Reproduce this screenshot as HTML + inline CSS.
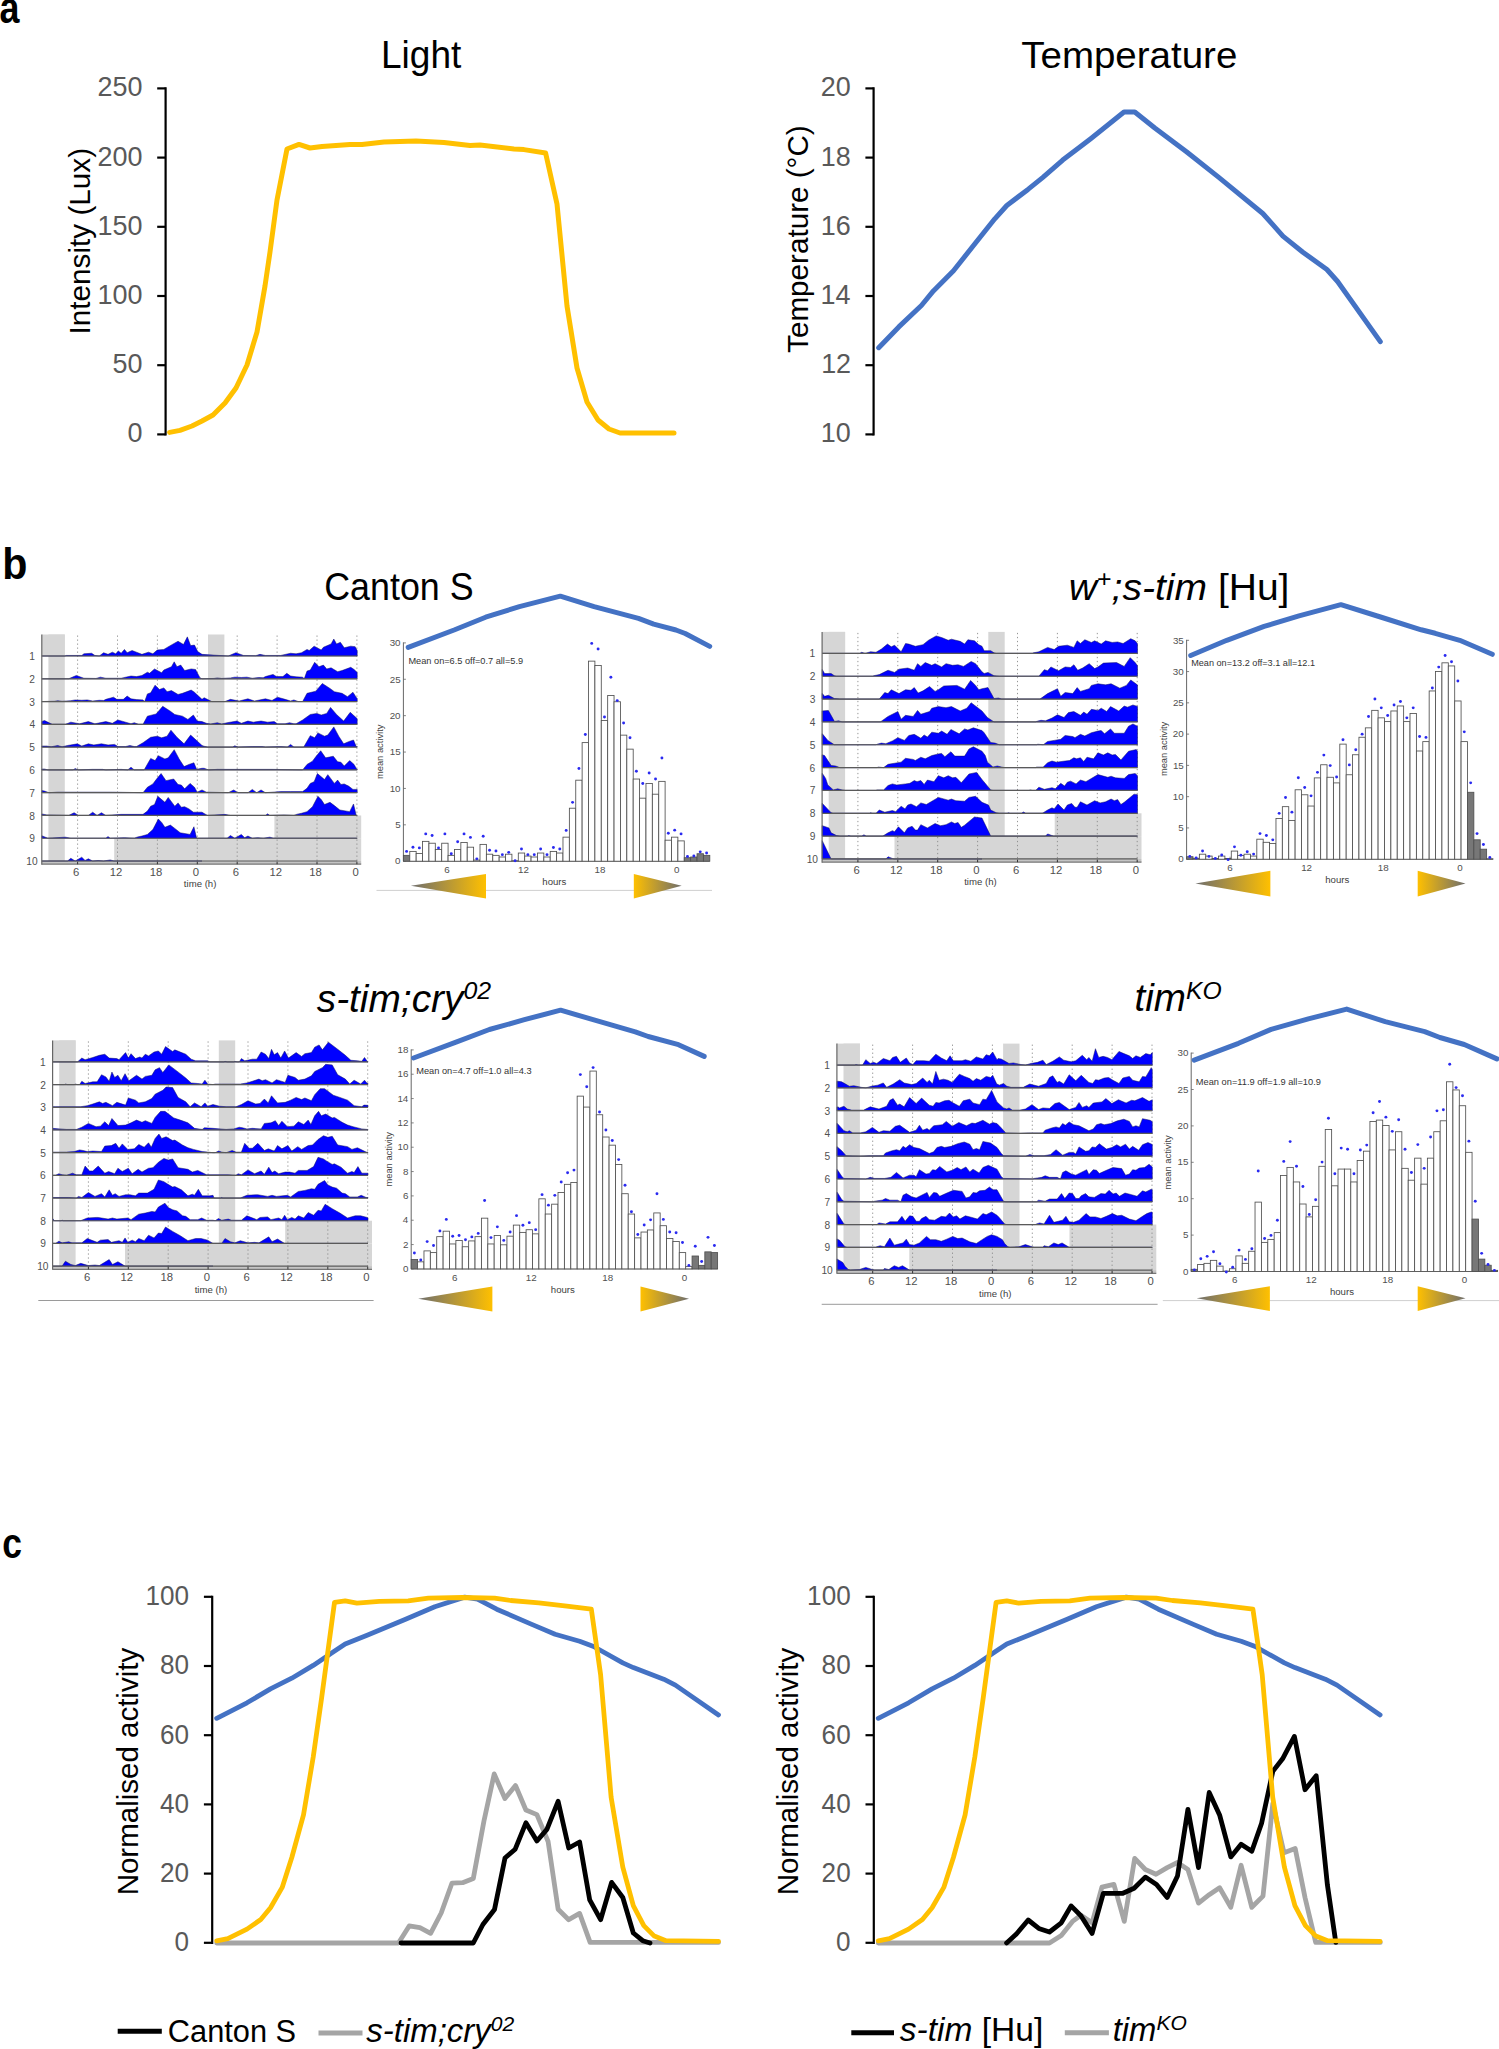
<!DOCTYPE html>
<html><head><meta charset="utf-8"><style>html,body{margin:0;padding:0;background:#fff;}svg{display:block;}</style></head>
<body><svg width="1499" height="2049" viewBox="0 0 1499 2049">
<rect width="100%" height="100%" fill="#fff"/>
<text transform="translate(-0.48,22.76) scale(0.8156,1)" font-size="44.000" fill="#000" font-family="&quot;Liberation Sans&quot;, sans-serif" font-weight="bold">a</text>
<text transform="translate(380.93,68.06) scale(0.9681,1)" font-size="38.289" fill="#000" font-family="&quot;Liberation Sans&quot;, sans-serif">Light</text>
<text transform="translate(1021.23,67.76) scale(1.0314,1)" font-size="37.333" fill="#000" font-family="&quot;Liberation Sans&quot;, sans-serif">Temperature</text>
<line x1="165.6" y1="87.3" x2="165.6" y2="435.5" stroke="#000" stroke-width="2.2" />
<line x1="157.2" y1="88.4" x2="165.6" y2="88.4" stroke="#000" stroke-width="2.2" />
<text transform="translate(97.57,96.45) scale(0.9800,1.0000)" font-size="27.500" fill="#595959" font-family="&quot;Liberation Sans&quot;, sans-serif">250</text>
<line x1="157.2" y1="157.6" x2="165.6" y2="157.6" stroke="#000" stroke-width="2.2" />
<text transform="translate(97.57,165.65) scale(0.9800,1.0000)" font-size="27.500" fill="#595959" font-family="&quot;Liberation Sans&quot;, sans-serif">200</text>
<line x1="157.2" y1="226.8" x2="165.6" y2="226.8" stroke="#000" stroke-width="2.2" />
<text transform="translate(97.57,234.85) scale(0.9800,1.0000)" font-size="27.500" fill="#595959" font-family="&quot;Liberation Sans&quot;, sans-serif">150</text>
<line x1="157.2" y1="296" x2="165.6" y2="296" stroke="#000" stroke-width="2.2" />
<text transform="translate(97.57,304.05) scale(0.9800,1.0000)" font-size="27.500" fill="#595959" font-family="&quot;Liberation Sans&quot;, sans-serif">100</text>
<line x1="157.2" y1="365.2" x2="165.6" y2="365.2" stroke="#000" stroke-width="2.2" />
<text transform="translate(112.53,373.25) scale(0.9800,1.0000)" font-size="27.500" fill="#595959" font-family="&quot;Liberation Sans&quot;, sans-serif">50</text>
<line x1="157.2" y1="434.4" x2="165.6" y2="434.4" stroke="#000" stroke-width="2.2" />
<text transform="translate(127.49,442.45) scale(0.9800,1.0000)" font-size="27.500" fill="#595959" font-family="&quot;Liberation Sans&quot;, sans-serif">0</text>
<text transform="translate(89.76,334.47) rotate(-90) scale(0.9994,1)" font-size="29.733" fill="#000" font-family="&quot;Liberation Sans&quot;, sans-serif">Intensity (Lux)</text>
<polyline points="169.6,432.4 180,430.4 192,426 202,421 213,415 225,403 236,388 247,365 257,332 265,286 270,252 277,200 287,149 299,144.4 310,148 322,146.4 350,144.4 362,144.4 384,142 416,141 444,142.4 470,145.6 480,145 514,149 524,149.6 545.6,153 557,204 567,306 577,368 587,402 598,420 609,429 620,433 674,433" fill="none" stroke="#FFC000" stroke-width="5" stroke-linejoin="round" stroke-linecap="round" />
<line x1="873.6" y1="87.3" x2="873.6" y2="435.5" stroke="#000" stroke-width="2.2" />
<line x1="865.4" y1="88.4" x2="873.6" y2="88.4" stroke="#000" stroke-width="2.2" />
<text transform="translate(820.73,96.45) scale(0.9800,1.0000)" font-size="27.500" fill="#595959" font-family="&quot;Liberation Sans&quot;, sans-serif">20</text>
<line x1="865.4" y1="157.6" x2="873.6" y2="157.6" stroke="#000" stroke-width="2.2" />
<text transform="translate(820.86,165.65) scale(0.9800,1.0000)" font-size="27.500" fill="#595959" font-family="&quot;Liberation Sans&quot;, sans-serif">18</text>
<line x1="865.4" y1="226.8" x2="873.6" y2="226.8" stroke="#000" stroke-width="2.2" />
<text transform="translate(820.86,234.85) scale(0.9800,1.0000)" font-size="27.500" fill="#595959" font-family="&quot;Liberation Sans&quot;, sans-serif">16</text>
<line x1="865.4" y1="296" x2="873.6" y2="296" stroke="#000" stroke-width="2.2" />
<text transform="translate(820.59,303.78) scale(0.9800,1.0000)" font-size="27.500" fill="#595959" font-family="&quot;Liberation Sans&quot;, sans-serif">14</text>
<line x1="865.4" y1="365.2" x2="873.6" y2="365.2" stroke="#000" stroke-width="2.2" />
<text transform="translate(821.13,373.25) scale(0.9800,1.0000)" font-size="27.500" fill="#595959" font-family="&quot;Liberation Sans&quot;, sans-serif">12</text>
<line x1="865.4" y1="434.4" x2="873.6" y2="434.4" stroke="#000" stroke-width="2.2" />
<text transform="translate(820.73,442.45) scale(0.9800,1.0000)" font-size="27.500" fill="#595959" font-family="&quot;Liberation Sans&quot;, sans-serif">10</text>
<text transform="translate(808.45,352.89) rotate(-90) scale(1.0114,1)" font-size="29.305" fill="#000" font-family="&quot;Liberation Sans&quot;, sans-serif">Temperature (°C)</text>
<polyline points="878.7,347.7 898.8,326.9 921.4,305.5 933.4,290.9 953.5,270.8 973.5,245.5 994.8,218.8 1006.8,205.5 1028,189.4 1042.9,177.4 1062.7,160.1 1080.2,146.8 1090.7,138.7 1124,112 1134.8,112 1154.8,128 1186.8,152 1218.8,177.4 1262.8,213.5 1282.9,236.1 1302.9,252.2 1326.9,269.5 1337.6,281.5 1380.3,341.6" fill="none" stroke="#4472C4" stroke-width="5" stroke-linejoin="round" stroke-linecap="round" />
<text transform="translate(2.32,578.55) scale(0.9230,1)" font-size="44.626" fill="#000" font-family="&quot;Liberation Sans&quot;, sans-serif" font-weight="bold">b</text>
<rect x="48.4" y="634.5" width="16.4" height="226.52" fill="#d6d6d6" />
<rect x="41.8" y="634.5" width="23" height="21.5" fill="#d6d6d6" />
<rect x="208" y="634.5" width="16.4" height="203.74" fill="#d6d6d6" />
<rect x="274.4" y="815.46" width="86.8" height="22.78" fill="#d6d6d6" />
<rect x="114.2" y="838.24" width="247" height="22.78" fill="#d6d6d6" />
<rect x="41.8" y="861.02" width="319.4" height="3.2" fill="#c4c4c4" />
<line x1="77.6" y1="635.5" x2="77.6" y2="864.22" stroke="#8a8a8a" stroke-width="0.9" stroke-dasharray="1.3,2.7"/>
<line x1="117.5" y1="635.5" x2="117.5" y2="864.22" stroke="#8a8a8a" stroke-width="0.9" stroke-dasharray="1.3,2.7"/>
<line x1="157.4" y1="635.5" x2="157.4" y2="864.22" stroke="#8a8a8a" stroke-width="0.9" stroke-dasharray="1.3,2.7"/>
<line x1="197.3" y1="635.5" x2="197.3" y2="864.22" stroke="#8a8a8a" stroke-width="0.9" stroke-dasharray="1.3,2.7"/>
<line x1="237.2" y1="635.5" x2="237.2" y2="864.22" stroke="#8a8a8a" stroke-width="0.9" stroke-dasharray="1.3,2.7"/>
<line x1="277.1" y1="635.5" x2="277.1" y2="864.22" stroke="#8a8a8a" stroke-width="0.9" stroke-dasharray="1.3,2.7"/>
<line x1="317" y1="635.5" x2="317" y2="864.22" stroke="#8a8a8a" stroke-width="0.9" stroke-dasharray="1.3,2.7"/>
<line x1="356.9" y1="635.5" x2="356.9" y2="864.22" stroke="#8a8a8a" stroke-width="0.9" stroke-dasharray="1.3,2.7"/>
<polygon points="41.8,656 41.8,656 64.81,656 66.45,655.45 81.76,655.45 83.95,653.81 91.61,653.26 94.89,655.45 99.27,656 103.65,652.72 108.02,654.36 112.4,652.17 115.68,653.81 118.42,651.08 121.15,653.26 124.43,649.44 127.17,652.72 132.09,650.53 136.47,652.17 141.94,654.36 148.5,652.17 152.88,653.81 157.26,649.98 163.82,649.44 169.29,646.15 178.04,641.23 183.51,644.51 187.34,636.85 190.63,645.61 194.46,645.06 197.74,651.62 202,654.36 228.23,656 235.89,652.72 243.55,655.45 255.59,655.67 259.96,654.36 265.43,655.45 280.75,655.45 282.94,654.91 290.6,653.26 296.07,653.81 301.54,652.72 307.01,649.44 309.2,650.53 314.12,646.15 321.23,649.98 323.42,647.25 331.08,643.96 333.81,639.04 336.55,643.96 340.38,642.32 344.21,647.79 350.77,646.15 355.15,646.7 357.2,650.55 357.2,656" fill="#0000ff" stroke="#101060" stroke-width="0.5" stroke-linejoin="round"/>
<polygon points="41.8,678.78 41.8,678.78 68.63,678.78 76.29,675.5 83.95,678.23 95.99,678.45 100.36,677.14 105.83,678.23 121.15,678.23 123.34,677.69 131,676.04 136.47,676.59 141.94,675.5 147.41,672.22 149.6,673.31 154.52,668.93 161.63,672.76 163.82,670.03 171.48,666.74 174.21,661.82 176.95,666.74 180.78,665.1 184.61,670.57 191.17,668.93 195.55,669.48 199.93,677.69 202,678.78 214.01,678.45 217.29,677.9 221.67,678.45 230.42,677.9 234.8,677.14 241.36,677.47 246.83,677.14 252.3,678.23 258.87,677.47 263.25,677.69 265.43,676.59 273.09,674.4 276.37,676.59 282.94,676.59 286.77,673.31 290.6,676.04 296.07,676.81 302.63,677.14 304.27,678.78 307.01,671.12 310.29,670.03 314.67,662.37 319.04,666.74 323.42,665.1 326.7,668.93 331.08,667.84 337.64,671.67 342.02,670.57 350.77,667.29 354.06,669.48 357.2,672.44 357.2,678.78" fill="#0000ff" stroke="#101060" stroke-width="0.5" stroke-linejoin="round"/>
<polygon points="41.8,701.56 41.8,701.55 54.41,701.23 57.69,700.68 62.07,701.23 70.82,700.68 75.2,699.92 81.76,700.25 87.23,699.92 92.7,701.01 99.27,700.25 103.65,700.47 105.83,699.37 113.49,697.18 116.77,699.37 123.34,699.37 127.17,696.09 131,698.82 136.47,699.59 143.03,699.92 144.67,701.56 147.41,693.9 150.69,692.81 155.07,685.15 159.44,689.52 163.82,687.88 167.1,691.71 171.48,690.62 178.04,694.45 182.42,693.35 191.17,690.07 194.46,692.26 202,699.37 204.16,697.73 211.82,701.56 224.95,701.56 230.42,699.37 239.18,701.01 247.93,698.82 254.49,701.01 265.43,698.82 272,700.47 277.47,697.18 285.13,699.37 290.6,701.01 293.88,699.92 298.26,701.56 302.63,701.56 307.01,693.35 315.76,691.17 322.33,683.51 329.99,688.43 334.36,691.71 342.02,693.35 347.49,696.64 352.96,692.26 356.79,698.28 357.2,698.32 357.2,701.56" fill="#0000ff" stroke="#101060" stroke-width="0.5" stroke-linejoin="round"/>
<polygon points="41.8,724.34 41.8,721.43 44.56,720.51 52.22,724.34 65.35,724.34 70.82,722.15 79.58,723.79 88.33,721.6 94.89,723.79 105.83,721.6 112.4,723.25 117.87,719.96 125.53,722.15 131,723.79 134.28,722.7 138.66,724.34 143.03,724.34 147.41,716.13 156.16,713.95 162.73,706.29 170.39,711.21 174.76,714.49 182.42,716.13 187.89,719.42 193.36,715.04 197.19,721.06 202,721.6 206.35,723.25 210.73,724.01 217.29,722.7 221.67,724.01 227.14,722.7 236.99,721.06 241.36,723.25 247.93,721.06 253.4,722.15 261.06,721.06 267.62,722.15 274.19,721.6 277.47,723.79 285.13,723.79 289.5,722.7 293.88,723.79 296.07,723.79 302.63,719.96 310.29,714.49 316.86,713.4 321.23,715.04 326.7,713.4 330.53,707.38 336.55,714.49 343.66,721.06 350.23,712.3 356.24,717.78 357.2,718.65 357.2,724.34" fill="#0000ff" stroke="#101060" stroke-width="0.5" stroke-linejoin="round"/>
<polygon points="41.8,747.12 41.8,746.03 46.75,746.03 51.13,746.79 57.69,745.48 62.07,746.79 67.54,745.48 77.39,743.84 81.76,746.03 88.33,743.84 93.8,744.93 101.46,743.84 108.02,744.93 114.59,744.38 117.87,746.57 125.53,746.57 129.9,745.48 134.28,746.57 136.47,746.57 143.03,742.74 150.69,737.27 157.26,736.18 161.63,737.82 167.1,736.18 170.93,730.16 176.95,737.27 184.06,743.84 190.63,735.08 196.64,740.56 202,745.48 204.16,746.24 207.45,747.12 232.61,747.12 234.8,745.81 238.08,747.12 252.3,746.57 262.15,746.57 265.43,747.12 280.75,746.57 287.32,747.12 290.6,744.38 293.88,747.12 303.73,747.12 310.29,735.63 314.67,737.82 317.95,732.9 324.51,736.18 327.8,735.08 333.81,726.88 338.74,736.18 343.66,743.84 348.58,741.65 353.51,740.01 356.24,746.57 357.2,746.38 357.2,747.12" fill="#0000ff" stroke="#101060" stroke-width="0.5" stroke-linejoin="round"/>
<polygon points="41.8,769.9 41.8,769.02 44.56,769.02 47.85,769.9 73.01,769.9 75.2,768.59 78.48,769.9 92.7,769.35 102.55,769.35 105.83,769.9 121.15,769.35 127.72,769.9 131,767.16 134.28,769.9 144.13,769.9 150.69,758.41 155.07,760.6 158.35,755.68 164.91,758.96 168.2,757.86 174.21,749.66 179.14,758.96 184.06,766.62 188.98,764.43 193.91,762.79 196.64,769.35 202,768.26 204.16,768.26 208.54,769.9 217.29,769.35 230.42,769.35 272,769.35 302.63,769.9 307.01,764.43 312.48,761.15 315.76,756.77 320.69,750.75 325.61,757.86 333.27,756.22 337.64,761.69 340.93,762.24 344.21,766.07 349.68,760.6 354.06,764.43 356.79,769.35 357.2,769.17 357.2,769.9" fill="#0000ff" stroke="#101060" stroke-width="0.5" stroke-linejoin="round"/>
<polygon points="41.8,792.68 41.8,790.58 44.56,791.04 48.94,792.68 57.69,792.13 70.82,792.13 112.4,792.13 143.03,792.68 147.41,787.21 152.88,783.93 156.16,779.55 161.09,773.53 166.01,780.64 173.67,779 178.04,784.47 181.33,785.02 184.61,788.85 190.08,783.38 194.46,787.21 197.19,792.13 202,789.94 206.35,792.13 228.23,792.68 233.71,789.94 238.08,792.68 247.93,792.68 252.3,789.4 256.68,792.68 261.06,789.94 265.43,792.68 280.75,791.59 290.6,791.59 302.63,791.59 307.01,788.3 310.29,783.38 314.12,781.74 317.4,773.53 324.51,779.55 327.8,774.63 334.36,783.38 337.64,780.1 340.93,784.47 344.21,783.93 348.58,786.12 352.96,789.4 357.2,789.4 357.2,792.68" fill="#0000ff" stroke="#101060" stroke-width="0.5" stroke-linejoin="round"/>
<polygon points="41.8,815.46 41.8,813.92 46.75,814.91 68.63,815.46 74.11,812.72 78.48,815.46 88.33,815.46 92.7,812.18 97.08,815.46 101.46,812.72 105.83,815.46 121.15,814.37 131,814.37 143.03,814.37 147.41,811.08 150.69,806.16 154.52,804.52 157.8,796.31 164.91,802.33 168.2,797.41 174.76,806.16 178.04,802.88 181.33,807.25 184.61,806.71 188.98,808.9 193.36,812.18 202,812.18 207.45,815.46 224.95,814.37 230.42,815.46 265.43,815.46 267.62,813.82 269.81,815.46 284.03,814.91 293.88,815.46 297.16,814.15 301.54,813.27 307.01,811.63 312.48,806.71 317.95,796.31 321.23,799.6 324.51,804.52 329.99,802.33 334.36,805.61 339.83,809.99 349.68,811.63 353.51,803.97 356.24,815.46 357.2,815.46 357.2,815.46" fill="#0000ff" stroke="#101060" stroke-width="0.5" stroke-linejoin="round"/>
<polygon points="41.8,838.24 41.8,835.72 47.85,838.24 65.35,837.15 70.82,838.24 105.83,838.24 108.02,836.6 110.21,838.24 124.43,837.69 134.28,838.24 137.56,836.93 141.94,836.05 147.41,834.41 152.88,829.49 158.35,819.09 161.63,822.38 164.91,827.3 170.39,825.11 174.76,828.39 180.23,832.77 190.08,834.41 193.91,826.75 196.64,838.24 202,838.24 227.14,838.24 230.42,835.5 234.8,838.24 241.36,834.41 244.65,837.69 247.93,836.05 252.3,838.24 257.78,837.69 263.25,838.24 269.81,837.15 273.64,838.24 357.2,838.24 357.2,838.24" fill="#0000ff" stroke="#101060" stroke-width="0.5" stroke-linejoin="round"/>
<polygon points="41.8,861.02 41.8,861.02 67.54,861.02 70.82,858.28 75.2,861.02 81.76,857.19 85.05,860.47 88.33,858.83 92.7,861.02 98.18,860.47 103.65,861.02 110.21,859.93 114.04,861.02 202,861.02 202,861.02" fill="#0000ff" stroke="#101060" stroke-width="0.5" stroke-linejoin="round"/>
<line x1="41.8" y1="656" x2="357.2" y2="656" stroke="#5a5a5a" stroke-width="1.2" />
<line x1="41.8" y1="678.78" x2="357.2" y2="678.78" stroke="#5a5a5a" stroke-width="1.2" />
<line x1="41.8" y1="701.56" x2="357.2" y2="701.56" stroke="#5a5a5a" stroke-width="1.2" />
<line x1="41.8" y1="724.34" x2="357.2" y2="724.34" stroke="#5a5a5a" stroke-width="1.2" />
<line x1="41.8" y1="747.12" x2="357.2" y2="747.12" stroke="#5a5a5a" stroke-width="1.2" />
<line x1="41.8" y1="769.9" x2="357.2" y2="769.9" stroke="#5a5a5a" stroke-width="1.2" />
<line x1="41.8" y1="792.68" x2="357.2" y2="792.68" stroke="#5a5a5a" stroke-width="1.2" />
<line x1="41.8" y1="815.46" x2="357.2" y2="815.46" stroke="#5a5a5a" stroke-width="1.2" />
<line x1="41.8" y1="838.24" x2="357.2" y2="838.24" stroke="#5a5a5a" stroke-width="1.2" />
<line x1="41.8" y1="861.02" x2="357.2" y2="861.02" stroke="#5a5a5a" stroke-width="1.2" />
<line x1="41.8" y1="634.5" x2="41.8" y2="864.72" stroke="#666" stroke-width="1.2" />
<line x1="41.8" y1="864.22" x2="361.2" y2="864.22" stroke="#777" stroke-width="1.2" />
<line x1="77.6" y1="861.72" x2="77.6" y2="864.22" stroke="#333" stroke-width="1" />
<line x1="117.5" y1="861.72" x2="117.5" y2="864.22" stroke="#333" stroke-width="1" />
<line x1="157.4" y1="861.72" x2="157.4" y2="864.22" stroke="#333" stroke-width="1" />
<line x1="197.3" y1="861.72" x2="197.3" y2="864.22" stroke="#333" stroke-width="1" />
<line x1="237.2" y1="861.72" x2="237.2" y2="864.22" stroke="#333" stroke-width="1" />
<line x1="277.1" y1="861.72" x2="277.1" y2="864.22" stroke="#333" stroke-width="1" />
<line x1="317" y1="861.72" x2="317" y2="864.22" stroke="#333" stroke-width="1" />
<line x1="356.9" y1="861.72" x2="356.9" y2="864.22" stroke="#333" stroke-width="1" />
<text transform="translate(29.22,659.94) scale(1.0000,1.0000)" font-size="10.200" fill="#505050" font-family="&quot;Liberation Sans&quot;, sans-serif">1</text>
<text transform="translate(29.37,682.82) scale(1.0000,1.0000)" font-size="10.200" fill="#505050" font-family="&quot;Liberation Sans&quot;, sans-serif">2</text>
<text transform="translate(29.37,705.6) scale(1.0000,1.0000)" font-size="10.200" fill="#505050" font-family="&quot;Liberation Sans&quot;, sans-serif">3</text>
<text transform="translate(29.42,728.28) scale(1.0000,1.0000)" font-size="10.200" fill="#505050" font-family="&quot;Liberation Sans&quot;, sans-serif">4</text>
<text transform="translate(29.37,751.06) scale(1.0000,1.0000)" font-size="10.200" fill="#505050" font-family="&quot;Liberation Sans&quot;, sans-serif">5</text>
<text transform="translate(29.32,773.94) scale(1.0000,1.0000)" font-size="10.200" fill="#505050" font-family="&quot;Liberation Sans&quot;, sans-serif">6</text>
<text transform="translate(29.37,796.62) scale(1.0000,1.0000)" font-size="10.200" fill="#505050" font-family="&quot;Liberation Sans&quot;, sans-serif">7</text>
<text transform="translate(29.34,819.5) scale(1.0000,1.0000)" font-size="10.200" fill="#505050" font-family="&quot;Liberation Sans&quot;, sans-serif">8</text>
<text transform="translate(29.37,842.28) scale(1.0000,1.0000)" font-size="10.200" fill="#505050" font-family="&quot;Liberation Sans&quot;, sans-serif">9</text>
<text transform="translate(26.33,865.06) scale(1.0000,1.0000)" font-size="10.200" fill="#505050" font-family="&quot;Liberation Sans&quot;, sans-serif">10</text>
<text transform="translate(73.11,876.13) scale(1.0000,1.0000)" font-size="11.300" fill="#505050" font-family="&quot;Liberation Sans&quot;, sans-serif">6</text>
<text transform="translate(109.79,876.13) scale(1.0000,1.0000)" font-size="11.300" fill="#505050" font-family="&quot;Liberation Sans&quot;, sans-serif">12</text>
<text transform="translate(149.63,876.13) scale(1.0000,1.0000)" font-size="11.300" fill="#505050" font-family="&quot;Liberation Sans&quot;, sans-serif">18</text>
<text transform="translate(192.84,876.13) scale(1.0000,1.0000)" font-size="11.300" fill="#505050" font-family="&quot;Liberation Sans&quot;, sans-serif">0</text>
<text transform="translate(232.71,876.13) scale(1.0000,1.0000)" font-size="11.300" fill="#505050" font-family="&quot;Liberation Sans&quot;, sans-serif">6</text>
<text transform="translate(269.39,876.13) scale(1.0000,1.0000)" font-size="11.300" fill="#505050" font-family="&quot;Liberation Sans&quot;, sans-serif">12</text>
<text transform="translate(309.23,876.13) scale(1.0000,1.0000)" font-size="11.300" fill="#505050" font-family="&quot;Liberation Sans&quot;, sans-serif">18</text>
<text transform="translate(352.44,876.13) scale(1.0000,1.0000)" font-size="11.300" fill="#505050" font-family="&quot;Liberation Sans&quot;, sans-serif">0</text>
<text transform="translate(183.87,887.48) scale(1.0000,1.0000)" font-size="9.600" fill="#404040" font-family="&quot;Liberation Sans&quot;, sans-serif">time (h)</text>
<rect x="828.7" y="631.9" width="16.4" height="227.06" fill="#d6d6d6" />
<rect x="822.1" y="631.9" width="23" height="21.5" fill="#d6d6d6" />
<rect x="988.3" y="631.9" width="16.4" height="204.22" fill="#d6d6d6" />
<rect x="1054.7" y="813.28" width="86.8" height="22.84" fill="#d6d6d6" />
<rect x="894.5" y="836.12" width="247" height="22.84" fill="#d6d6d6" />
<rect x="822.1" y="858.96" width="319.4" height="3.2" fill="#c4c4c4" />
<line x1="857.9" y1="632.9" x2="857.9" y2="862.16" stroke="#8a8a8a" stroke-width="0.9" stroke-dasharray="1.3,2.7"/>
<line x1="897.8" y1="632.9" x2="897.8" y2="862.16" stroke="#8a8a8a" stroke-width="0.9" stroke-dasharray="1.3,2.7"/>
<line x1="937.7" y1="632.9" x2="937.7" y2="862.16" stroke="#8a8a8a" stroke-width="0.9" stroke-dasharray="1.3,2.7"/>
<line x1="977.6" y1="632.9" x2="977.6" y2="862.16" stroke="#8a8a8a" stroke-width="0.9" stroke-dasharray="1.3,2.7"/>
<line x1="1017.5" y1="632.9" x2="1017.5" y2="862.16" stroke="#8a8a8a" stroke-width="0.9" stroke-dasharray="1.3,2.7"/>
<line x1="1057.4" y1="632.9" x2="1057.4" y2="862.16" stroke="#8a8a8a" stroke-width="0.9" stroke-dasharray="1.3,2.7"/>
<line x1="1097.3" y1="632.9" x2="1097.3" y2="862.16" stroke="#8a8a8a" stroke-width="0.9" stroke-dasharray="1.3,2.7"/>
<line x1="1137.2" y1="632.9" x2="1137.2" y2="862.16" stroke="#8a8a8a" stroke-width="0.9" stroke-dasharray="1.3,2.7"/>
<polygon points="822.1,653.4 822.1,653.4 844.81,653.4 859.58,653.4 861.76,652.31 865.05,653.4 870.52,651.76 875.99,652.31 881.46,649.02 887.47,644.1 891.3,646.84 894.59,645.19 901.15,651.76 905.53,643.55 908.81,644.1 915.37,646.29 923.03,644.65 928.5,640.27 936.16,635.89 941.63,637.54 948.2,640.27 951.48,639.18 960.23,641.36 964.61,644.1 967.89,639.72 974.46,640.82 978.83,644.65 982,646.29 984.16,650.66 990.73,650.66 994.01,652.85 996.2,653.4 1032.3,653.4 1033.4,652.85 1038.87,651.76 1047.62,647.38 1054.19,649.57 1058.56,646.29 1067.32,645.19 1073.88,647.38 1077.16,640.82 1080.44,643.55 1084.82,639.72 1091.39,642.46 1094.67,640.82 1101.23,644.1 1105.61,640.82 1112.17,642.46 1117.64,641.91 1123.11,643.55 1130.77,638.63 1135.15,640.82 1137.5,643.81 1137.5,653.4" fill="#0000ff" stroke="#101060" stroke-width="0.5" stroke-linejoin="round"/>
<polygon points="822.1,676.24 822.1,669.54 822.38,669.68 824.56,673.5 831.13,673.5 834.41,675.69 836.6,676.24 872.7,676.24 873.8,675.69 879.27,674.6 888.02,670.22 894.59,672.41 898.96,669.13 907.72,668.03 914.28,670.22 917.56,663.66 920.84,666.39 925.22,662.56 931.79,665.3 935.07,663.66 941.63,666.94 946.01,663.66 952.57,665.3 958.04,664.75 963.51,666.39 971.17,661.47 975.55,663.66 982,671.86 984.16,673.5 987.99,672.41 994.01,675.69 999.48,676.24 1038.87,676.24 1044.34,669.68 1047.62,670.77 1050.9,666.94 1058.56,670.77 1065.13,666.94 1070.6,667.49 1073.88,664.75 1077.71,670.22 1082.63,668.03 1089.2,663.66 1094.67,668.58 1097.95,666.94 1103.42,663.11 1116.55,662.56 1124.21,666.39 1130.23,657.64 1135.15,662.56 1137.5,665.7 1137.5,676.24" fill="#0000ff" stroke="#101060" stroke-width="0.5" stroke-linejoin="round"/>
<polygon points="822.1,699.08 822.1,693.47 822.38,693.61 824.56,696.34 828.39,695.25 834.41,698.53 839.88,699.08 879.27,699.08 884.74,692.52 888.02,693.61 891.3,689.78 898.96,693.61 905.53,689.78 911,690.33 914.28,687.59 918.11,693.06 923.03,690.87 929.6,686.5 935.07,691.42 938.35,689.78 943.82,685.95 956.95,685.4 964.61,689.23 970.63,680.48 975.55,685.4 978.83,689.78 982,688.69 987.99,687.59 990.73,692.52 994.01,698.53 998.39,697.99 1001.67,699.08 1039.96,699.08 1047.62,693.61 1057.47,688.69 1060.75,696.34 1065.13,692.52 1072.79,693.61 1077.16,687.59 1080.44,691.42 1089.2,688.69 1091.39,685.4 1097.95,683.76 1105.61,684.86 1111.08,683.76 1119.83,688.14 1126.4,685.4 1130.77,679.93 1137.34,684.86 1137.5,684.98 1137.5,699.08" fill="#0000ff" stroke="#101060" stroke-width="0.5" stroke-linejoin="round"/>
<polygon points="822.1,721.92 822.1,710.92 828.39,710.43 831.13,715.36 834.41,721.37 838.79,720.83 842.07,721.92 880.36,721.92 888.02,716.45 897.87,711.53 901.15,719.18 905.53,715.36 913.19,716.45 917.56,710.43 920.84,714.26 929.6,711.53 931.79,708.24 938.35,706.6 946.01,707.7 951.48,706.6 960.23,710.98 966.8,708.24 971.17,702.77 977.74,707.7 982,710.98 987.45,717.54 994.01,721.92 1035.59,721.92 1036.68,721.37 1041.06,720.28 1045.43,720.83 1052,718.09 1057.47,714.81 1064.03,717.54 1068.41,712.62 1073.88,711.53 1080.44,715.36 1083.73,712.07 1087.01,714.26 1091.39,709.34 1097.95,710.43 1101.23,708.24 1106.7,711.53 1110.53,706.6 1118.74,710.98 1124.21,706.06 1127.49,707.15 1132.96,704.96 1137.5,706.4 1137.5,721.92" fill="#0000ff" stroke="#101060" stroke-width="0.5" stroke-linejoin="round"/>
<polygon points="822.1,744.76 822.1,733.68 822.38,733.82 827.85,740.38 834.41,744.76 875.99,744.76 877.08,744.21 881.46,743.12 885.83,743.67 892.4,740.93 897.87,737.65 904.43,740.38 908.81,735.46 914.28,734.37 920.84,738.2 924.13,734.91 927.41,737.1 931.79,732.18 938.35,733.27 941.63,731.08 947.1,734.37 950.93,729.44 959.14,733.82 964.61,728.9 967.89,729.99 973.36,727.8 982,730.54 984.16,732.72 990.73,742.57 995.11,743.12 999.48,744.76 1036.68,744.76 1037.78,744.21 1043.25,744.76 1047.62,741.48 1054.19,740.38 1060.75,739.29 1065.13,735.46 1072.79,736.55 1074.97,737.65 1080.44,734.37 1084.82,736.01 1091.39,732.72 1097.95,731.08 1101.23,730.54 1104.51,733.82 1110.53,728.9 1114.36,733.27 1124.21,733.27 1128.58,726.16 1132.96,723.97 1137.5,726.27 1137.5,744.76" fill="#0000ff" stroke="#101060" stroke-width="0.5" stroke-linejoin="round"/>
<polygon points="822.1,767.6 822.1,754.74 824.56,755.56 831.13,765.41 835.51,765.96 839.88,767.6 877.08,767.6 878.18,767.05 883.65,767.6 888.02,764.32 894.59,763.22 901.15,762.13 905.53,758.3 913.19,759.39 915.37,760.49 920.84,757.21 925.22,758.85 931.79,755.56 938.35,753.92 941.63,753.38 944.91,756.66 950.93,751.74 954.76,756.11 964.61,756.11 968.98,749 973.36,746.81 982,751.19 985.26,755.56 987.45,762.13 992.92,767.05 997.29,765.96 1001.67,767.05 1004.95,767.6 1035.59,767.6 1036.68,767.05 1043.25,767.05 1047.62,762.68 1052,761.04 1056.37,762.13 1065.13,761.04 1069.5,760.49 1073.88,757.75 1076.62,758.85 1080.44,757.75 1083.73,761.58 1087.01,757.21 1093.57,758.85 1097.95,752.83 1103.42,755.02 1107.8,752.83 1112.17,755.02 1115.46,754.47 1120.93,759.94 1128.58,751.19 1136.24,749.55 1137.5,751.21 1137.5,767.6" fill="#0000ff" stroke="#101060" stroke-width="0.5" stroke-linejoin="round"/>
<polygon points="822.1,790.44 822.1,773.34 822.38,773.48 825.66,778.4 827.85,784.97 833.32,789.89 837.69,788.8 842.07,789.89 845.35,790.44 875.99,790.44 877.08,789.89 883.65,789.89 888.02,785.52 892.4,783.88 896.77,784.97 905.53,783.88 909.9,783.33 914.28,780.59 917.02,781.69 920.84,780.59 924.13,784.42 927.41,780.05 933.97,781.69 938.35,775.67 943.82,777.86 948.2,775.67 952.57,777.86 955.86,777.31 961.33,782.78 968.98,774.03 976.64,772.39 982,779.5 990.73,789.89 992.92,790.44 1029.02,790.44 1030.12,789.89 1032.3,790.44 1035.59,790.44 1038.87,787.16 1044.34,789.35 1052,787.7 1055.28,788.8 1060.75,783.33 1064.58,786.06 1067.32,782.23 1070.6,781.14 1076.07,783.88 1080.44,780.05 1085.92,781.69 1097.95,774.58 1107.8,777.31 1111.08,776.22 1115.46,777.86 1124.21,778.4 1128.58,774.58 1135.15,773.48 1137.5,775.67 1137.5,790.44" fill="#0000ff" stroke="#101060" stroke-width="0.5" stroke-linejoin="round"/>
<polygon points="822.1,813.28 822.1,803.29 822.38,803.43 831.13,812.73 833.32,813.28 869.42,813.28 870.52,812.73 872.7,813.28 875.99,813.28 879.27,810 884.74,812.19 892.4,810.54 895.68,811.64 901.15,806.17 904.98,808.9 907.72,805.07 911,803.98 916.47,806.72 920.84,802.89 926.32,804.53 938.35,797.42 948.2,800.15 951.48,799.06 955.86,800.7 964.61,801.24 968.98,797.42 975.55,796.32 982,802.34 988.54,805.07 990.73,810 996.2,812.73 999.48,813.28 1007.14,813.28 1008.23,812.73 1010.42,813.28 1021.36,813.28 1023.55,811.97 1025.74,813.28 1042.15,813.28 1043.25,812.73 1047.62,810 1052,807.81 1054.19,808.9 1058.02,803.98 1064.03,810 1067.32,805.07 1071.69,803.43 1074.97,807.26 1077.16,807.26 1080.44,801.79 1087.01,805.07 1094.67,800.7 1100.14,802.89 1105.61,801.79 1111.08,799.06 1114.36,800.7 1117.64,799.6 1120.93,804.53 1124.21,802.34 1134.06,794.13 1137.5,794.63 1137.5,813.28" fill="#0000ff" stroke="#101060" stroke-width="0.5" stroke-linejoin="round"/>
<polygon points="822.1,836.12 822.1,825.59 822.38,825.73 828.94,827.91 831.13,832.84 836.6,835.57 839.88,836.12 847.54,836.12 848.63,835.57 850.82,836.12 861.76,836.12 863.95,834.81 866.14,836.12 882.55,836.12 883.65,835.57 888.02,832.84 892.4,830.65 894.59,831.74 898.42,826.82 904.43,832.84 907.72,827.91 912.09,826.27 915.37,830.1 917.56,830.1 920.84,824.63 927.41,827.91 935.07,823.54 940.54,825.73 946.01,824.63 951.48,821.9 954.76,823.54 958.04,822.44 961.33,827.37 964.61,825.18 974.46,816.97 982,818.07 990.73,836.12 1045.43,836.12 1047.62,833.93 1052,835.57 1053.64,836.12 1137.5,836.12 1137.5,836.12" fill="#0000ff" stroke="#101060" stroke-width="0.5" stroke-linejoin="round"/>
<polygon points="822.1,858.96 822.1,840.63 822.38,840.91 831.13,858.96 885.83,858.96 888.02,856.77 892.4,858.41 894.04,858.96 982,858.96 982,858.96" fill="#0000ff" stroke="#101060" stroke-width="0.5" stroke-linejoin="round"/>
<line x1="822.1" y1="653.4" x2="1137.5" y2="653.4" stroke="#5a5a5a" stroke-width="1.2" />
<line x1="822.1" y1="676.24" x2="1137.5" y2="676.24" stroke="#5a5a5a" stroke-width="1.2" />
<line x1="822.1" y1="699.08" x2="1137.5" y2="699.08" stroke="#5a5a5a" stroke-width="1.2" />
<line x1="822.1" y1="721.92" x2="1137.5" y2="721.92" stroke="#5a5a5a" stroke-width="1.2" />
<line x1="822.1" y1="744.76" x2="1137.5" y2="744.76" stroke="#5a5a5a" stroke-width="1.2" />
<line x1="822.1" y1="767.6" x2="1137.5" y2="767.6" stroke="#5a5a5a" stroke-width="1.2" />
<line x1="822.1" y1="790.44" x2="1137.5" y2="790.44" stroke="#5a5a5a" stroke-width="1.2" />
<line x1="822.1" y1="813.28" x2="1137.5" y2="813.28" stroke="#5a5a5a" stroke-width="1.2" />
<line x1="822.1" y1="836.12" x2="1137.5" y2="836.12" stroke="#5a5a5a" stroke-width="1.2" />
<line x1="822.1" y1="858.96" x2="1137.5" y2="858.96" stroke="#5a5a5a" stroke-width="1.2" />
<line x1="822.1" y1="631.9" x2="822.1" y2="862.66" stroke="#666" stroke-width="1.2" />
<line x1="822.1" y1="862.16" x2="1141.5" y2="862.16" stroke="#777" stroke-width="1.2" />
<line x1="857.9" y1="859.66" x2="857.9" y2="862.16" stroke="#333" stroke-width="1" />
<line x1="897.8" y1="859.66" x2="897.8" y2="862.16" stroke="#333" stroke-width="1" />
<line x1="937.7" y1="859.66" x2="937.7" y2="862.16" stroke="#333" stroke-width="1" />
<line x1="977.6" y1="859.66" x2="977.6" y2="862.16" stroke="#333" stroke-width="1" />
<line x1="1017.5" y1="859.66" x2="1017.5" y2="862.16" stroke="#333" stroke-width="1" />
<line x1="1057.4" y1="859.66" x2="1057.4" y2="862.16" stroke="#333" stroke-width="1" />
<line x1="1097.3" y1="859.66" x2="1097.3" y2="862.16" stroke="#333" stroke-width="1" />
<line x1="1137.2" y1="859.66" x2="1137.2" y2="862.16" stroke="#333" stroke-width="1" />
<text transform="translate(809.52,657.34) scale(1.0000,1.0000)" font-size="10.200" fill="#505050" font-family="&quot;Liberation Sans&quot;, sans-serif">1</text>
<text transform="translate(809.67,680.28) scale(1.0000,1.0000)" font-size="10.200" fill="#505050" font-family="&quot;Liberation Sans&quot;, sans-serif">2</text>
<text transform="translate(809.67,703.12) scale(1.0000,1.0000)" font-size="10.200" fill="#505050" font-family="&quot;Liberation Sans&quot;, sans-serif">3</text>
<text transform="translate(809.72,725.86) scale(1.0000,1.0000)" font-size="10.200" fill="#505050" font-family="&quot;Liberation Sans&quot;, sans-serif">4</text>
<text transform="translate(809.67,748.7) scale(1.0000,1.0000)" font-size="10.200" fill="#505050" font-family="&quot;Liberation Sans&quot;, sans-serif">5</text>
<text transform="translate(809.62,771.64) scale(1.0000,1.0000)" font-size="10.200" fill="#505050" font-family="&quot;Liberation Sans&quot;, sans-serif">6</text>
<text transform="translate(809.67,794.38) scale(1.0000,1.0000)" font-size="10.200" fill="#505050" font-family="&quot;Liberation Sans&quot;, sans-serif">7</text>
<text transform="translate(809.64,817.32) scale(1.0000,1.0000)" font-size="10.200" fill="#505050" font-family="&quot;Liberation Sans&quot;, sans-serif">8</text>
<text transform="translate(809.67,840.16) scale(1.0000,1.0000)" font-size="10.200" fill="#505050" font-family="&quot;Liberation Sans&quot;, sans-serif">9</text>
<text transform="translate(806.63,863) scale(1.0000,1.0000)" font-size="10.200" fill="#505050" font-family="&quot;Liberation Sans&quot;, sans-serif">10</text>
<text transform="translate(853.41,874.07) scale(1.0000,1.0000)" font-size="11.300" fill="#505050" font-family="&quot;Liberation Sans&quot;, sans-serif">6</text>
<text transform="translate(890.09,874.07) scale(1.0000,1.0000)" font-size="11.300" fill="#505050" font-family="&quot;Liberation Sans&quot;, sans-serif">12</text>
<text transform="translate(929.93,874.07) scale(1.0000,1.0000)" font-size="11.300" fill="#505050" font-family="&quot;Liberation Sans&quot;, sans-serif">18</text>
<text transform="translate(973.14,874.07) scale(1.0000,1.0000)" font-size="11.300" fill="#505050" font-family="&quot;Liberation Sans&quot;, sans-serif">0</text>
<text transform="translate(1013.01,874.07) scale(1.0000,1.0000)" font-size="11.300" fill="#505050" font-family="&quot;Liberation Sans&quot;, sans-serif">6</text>
<text transform="translate(1049.69,874.07) scale(1.0000,1.0000)" font-size="11.300" fill="#505050" font-family="&quot;Liberation Sans&quot;, sans-serif">12</text>
<text transform="translate(1089.53,874.07) scale(1.0000,1.0000)" font-size="11.300" fill="#505050" font-family="&quot;Liberation Sans&quot;, sans-serif">18</text>
<text transform="translate(1132.74,874.07) scale(1.0000,1.0000)" font-size="11.300" fill="#505050" font-family="&quot;Liberation Sans&quot;, sans-serif">0</text>
<text transform="translate(964.17,885.42) scale(1.0000,1.0000)" font-size="9.600" fill="#404040" font-family="&quot;Liberation Sans&quot;, sans-serif">time (h)</text>
<rect x="59.2" y="1040.4" width="16.4" height="225.71" fill="#d6d6d6" />
<rect x="52.6" y="1040.4" width="23" height="21.5" fill="#d6d6d6" />
<rect x="218.8" y="1040.4" width="16.4" height="203.02" fill="#d6d6d6" />
<rect x="285.2" y="1220.73" width="86.8" height="22.69" fill="#d6d6d6" />
<rect x="125" y="1243.42" width="247" height="22.69" fill="#d6d6d6" />
<rect x="52.6" y="1266.11" width="319.4" height="3.2" fill="#c4c4c4" />
<line x1="88.4" y1="1041.4" x2="88.4" y2="1269.31" stroke="#8a8a8a" stroke-width="0.9" stroke-dasharray="1.3,2.7"/>
<line x1="128.3" y1="1041.4" x2="128.3" y2="1269.31" stroke="#8a8a8a" stroke-width="0.9" stroke-dasharray="1.3,2.7"/>
<line x1="168.2" y1="1041.4" x2="168.2" y2="1269.31" stroke="#8a8a8a" stroke-width="0.9" stroke-dasharray="1.3,2.7"/>
<line x1="208.1" y1="1041.4" x2="208.1" y2="1269.31" stroke="#8a8a8a" stroke-width="0.9" stroke-dasharray="1.3,2.7"/>
<line x1="248" y1="1041.4" x2="248" y2="1269.31" stroke="#8a8a8a" stroke-width="0.9" stroke-dasharray="1.3,2.7"/>
<line x1="287.9" y1="1041.4" x2="287.9" y2="1269.31" stroke="#8a8a8a" stroke-width="0.9" stroke-dasharray="1.3,2.7"/>
<line x1="327.8" y1="1041.4" x2="327.8" y2="1269.31" stroke="#8a8a8a" stroke-width="0.9" stroke-dasharray="1.3,2.7"/>
<line x1="367.7" y1="1041.4" x2="367.7" y2="1269.31" stroke="#8a8a8a" stroke-width="0.9" stroke-dasharray="1.3,2.7"/>
<polygon points="52.6,1061.9 52.6,1061.9 77.45,1061.9 81.82,1058.07 85.11,1059.71 92.76,1057.52 99.33,1055.34 104.8,1054.24 109.18,1058.07 116.83,1058.62 119.02,1059.71 125.59,1052.6 128.32,1058.07 131.06,1053.69 135.43,1058.62 139.81,1056.98 142,1058.07 145.28,1054.24 148.56,1055.88 154.03,1052.05 158.41,1050.96 161.69,1054.24 165.52,1046.58 172.63,1051.51 174.82,1049.86 185.76,1054.24 191.23,1059.16 195.61,1060.81 207.64,1060.81 209.83,1061.9 213,1061.9 223.92,1061.9 225.01,1061.35 227.2,1061.9 233.76,1061.9 234.86,1061.35 237.05,1061.9 239.23,1061.9 241.42,1058.62 244.71,1060.81 252.36,1059.16 256.74,1059.16 261.12,1052.05 265.49,1054.24 268.78,1058.62 271.51,1049.32 274.25,1054.79 277.53,1052.6 280.81,1058.07 284.64,1050.96 288.47,1058.07 296.13,1052.6 301.6,1056.43 304.88,1053.69 311.44,1052.6 314.73,1047.13 319.1,1044.94 322.39,1049.86 328.4,1042.21 339.89,1050.96 345.36,1055.34 350.83,1060.26 357.4,1060.81 361.77,1061.35 364.51,1057.52 367.24,1061.35 368,1061.43 368,1061.9" fill="#0000ff" stroke="#101060" stroke-width="0.5" stroke-linejoin="round"/>
<polygon points="52.6,1084.59 52.6,1084.59 64.32,1084.59 65.41,1084.04 67.6,1084.59 74.16,1084.59 75.26,1084.04 77.45,1084.59 79.63,1084.59 81.82,1081.31 85.11,1083.5 92.76,1081.85 97.14,1081.85 101.52,1074.74 105.89,1076.93 109.18,1081.31 111.91,1072.01 114.65,1077.48 117.93,1075.29 121.21,1080.76 125.04,1073.65 128.87,1080.76 136.53,1075.29 142,1079.12 145.28,1076.38 151.84,1075.29 155.13,1069.82 159.5,1067.63 162.79,1072.55 168.8,1064.9 180.29,1073.65 185.76,1078.03 191.23,1082.95 197.8,1083.5 202.17,1084.04 204.91,1080.21 207.64,1084.04 213,1084.59 215.16,1084.04 221.73,1084.04 231.58,1084.04 240.33,1084.04 246.89,1082.95 252.36,1081.31 258.93,1079.12 262.21,1080.76 265.49,1079.67 272.06,1082.95 276.43,1079.67 285.19,1082.4 287.92,1075.29 295.03,1077.48 298.32,1080.21 304.88,1079.12 311.44,1075.84 314.73,1071.46 322.39,1067.63 325.67,1064.35 332.23,1064.9 337.7,1074.74 345.36,1079.12 349.74,1084.04 354.11,1080.21 360.68,1084.04 364.51,1080.21 367.24,1083.5 368,1083.26 368,1084.59" fill="#0000ff" stroke="#101060" stroke-width="0.5" stroke-linejoin="round"/>
<polygon points="52.6,1107.28 52.6,1106.73 55.56,1106.73 62.13,1106.73 71.98,1106.73 80.73,1106.73 87.29,1105.64 92.76,1104 99.33,1101.81 102.61,1103.45 105.89,1102.36 112.46,1105.64 116.83,1102.36 125.59,1105.09 128.32,1097.98 135.43,1100.17 138.72,1102.9 145.28,1101.81 151.84,1098.53 155.13,1094.15 162.79,1090.32 166.07,1087.04 172.63,1087.59 178.1,1097.43 185.76,1101.81 190.14,1106.73 194.51,1102.9 201.08,1106.73 204.91,1102.9 207.64,1106.19 213,1104.54 219.54,1106.19 226.11,1106.73 235.95,1106.73 241.42,1104.54 247.99,1100.72 255.65,1104 260.02,1103.45 264.4,1099.07 268.23,1102.9 271.51,1095.79 277.53,1102.9 285.19,1102.36 290.66,1100.17 296.13,1097.43 301.6,1099.62 304.88,1097.98 311.44,1100.72 314.73,1094.7 320.2,1088.68 324.57,1088.68 333.33,1095.24 339.89,1097.43 347.55,1100.17 354.11,1105.64 361.77,1106.73 363.96,1105.09 368,1105.35 368,1107.28" fill="#0000ff" stroke="#101060" stroke-width="0.5" stroke-linejoin="round"/>
<polygon points="52.6,1129.97 52.6,1128.35 59.94,1128.88 66.51,1129.42 76.35,1129.42 81.82,1127.23 88.39,1123.41 96.05,1126.69 100.42,1126.14 104.8,1121.76 108.63,1125.59 111.91,1118.48 117.93,1125.59 125.59,1125.05 131.06,1122.86 136.53,1120.12 142,1122.31 145.28,1120.67 151.84,1123.41 155.13,1117.39 160.6,1111.37 164.97,1111.37 173.73,1117.93 180.29,1120.12 187.95,1122.86 194.51,1128.33 202.17,1129.42 204.36,1127.78 213,1128.33 226.11,1129.42 233.76,1128.88 239.23,1127.23 242.52,1127.78 246.89,1128.88 252.36,1128.33 261.12,1128.88 264.4,1123.41 270.96,1122.86 275.34,1120.67 278.62,1125.59 281.9,1121.22 287.37,1126.69 293.94,1126.14 298.32,1121.76 303.79,1124.5 308.16,1120.12 310.9,1124.5 314.73,1115.75 318.56,1111.37 321.29,1115.75 325.67,1114.11 332.23,1117.93 334.42,1117.39 342.08,1122.31 347.55,1125.05 353.02,1126.69 361.77,1128.88 367.24,1129.42 368,1129.5 368,1129.97" fill="#0000ff" stroke="#101060" stroke-width="0.5" stroke-linejoin="round"/>
<polygon points="52.6,1152.66 52.6,1152.11 66.51,1152.11 74.16,1151.57 79.63,1149.92 82.92,1150.47 87.29,1151.57 92.76,1151.02 101.52,1151.57 104.8,1146.1 111.36,1145.55 115.74,1143.36 119.02,1148.28 122.3,1143.91 127.77,1149.38 134.34,1148.83 138.72,1144.45 144.19,1147.19 148.56,1142.81 151.3,1147.19 155.13,1138.44 158.96,1134.06 161.69,1138.44 166.07,1136.8 172.63,1140.62 174.82,1140.08 182.48,1145 187.95,1147.74 193.42,1149.38 202.17,1151.57 207.64,1152.11 213,1152.66 215.16,1152.66 218.45,1151.02 221.73,1152.11 226.11,1152.66 232.12,1150.47 235.95,1152.11 241.42,1152.11 244.71,1143.36 249.08,1148.28 252.36,1148.28 257.83,1143.36 264.4,1150.47 268.23,1148.83 274.25,1151.02 277.53,1145.55 281.9,1148.83 287.92,1145.55 291.75,1151.02 297.77,1146.64 301.6,1149.38 308.16,1145.55 312.54,1145 318.01,1139.53 323.48,1135.7 327.86,1137.34 332.23,1136.25 337.7,1145 347.55,1146.64 351.93,1149.38 357.4,1147.74 366.15,1152.11 368,1152.11 368,1152.66" fill="#0000ff" stroke="#101060" stroke-width="0.5" stroke-linejoin="round"/>
<polygon points="52.6,1175.35 52.6,1175.35 55.56,1175.35 58.85,1173.71 62.13,1174.8 66.51,1175.35 72.52,1173.16 76.35,1174.8 81.82,1174.8 85.11,1166.05 89.48,1170.97 92.76,1170.97 98.23,1166.05 104.8,1173.16 108.63,1171.52 114.65,1173.71 117.93,1168.24 122.3,1171.52 128.32,1168.24 132.15,1173.71 138.17,1169.33 142,1172.07 148.56,1168.24 152.94,1167.69 158.41,1162.22 163.88,1158.39 168.26,1160.03 172.63,1158.94 178.1,1167.69 187.95,1169.33 192.33,1172.07 197.8,1170.43 206.55,1174.8 213,1174.8 228.29,1174.8 235.95,1175.35 238.14,1173.71 241.42,1174.8 247.99,1169.88 254.55,1173.71 261.12,1170.97 264.4,1174.26 268.78,1167.14 272.06,1172.61 274.79,1170.97 278.62,1173.71 285.19,1172.07 289.56,1172.07 295.03,1173.16 298.32,1170.43 307.07,1170.43 313.63,1166.6 318.01,1157.3 323.48,1158.94 326.76,1161.13 332.23,1164.41 334.42,1163.86 340.99,1167.14 347.55,1173.16 351.93,1171.52 354.11,1172.61 357.94,1166.6 361.77,1173.16 368,1173.16 368,1175.35" fill="#0000ff" stroke="#101060" stroke-width="0.5" stroke-linejoin="round"/>
<polygon points="52.6,1198.04 52.6,1197.49 68.69,1197.49 76.35,1198.04 78.54,1196.4 81.82,1197.49 88.39,1192.57 94.95,1196.4 101.52,1193.66 104.8,1196.95 109.18,1189.83 112.46,1195.3 115.19,1193.66 119.02,1196.4 125.59,1194.76 129.96,1194.76 135.43,1195.85 138.72,1193.12 147.47,1193.12 154.03,1189.29 158.41,1179.99 163.88,1181.63 167.16,1183.82 172.63,1187.1 174.82,1186.55 181.39,1189.83 187.95,1195.85 192.33,1194.21 194.51,1195.3 198.34,1189.29 202.17,1195.85 209.83,1195.85 213,1195.3 214.07,1198.04 220.64,1198.04 221.73,1197.49 222.82,1198.04 240.33,1198.04 241.42,1197.49 246.89,1195.3 255.65,1194.76 257.83,1194.76 267.68,1196.4 272.06,1195.3 276.43,1196.4 287.37,1195.3 290.66,1196.95 298.32,1191.48 304.88,1190.38 311.44,1188.74 314.73,1189.29 318.01,1184.36 324.57,1180.53 327.86,1184.91 332.23,1187.1 336.61,1188.19 342.08,1193.12 345.36,1193.66 349.74,1196.95 357.4,1196.95 361.23,1195.3 366.15,1197.49 368,1197.49 368,1198.04" fill="#0000ff" stroke="#101060" stroke-width="0.5" stroke-linejoin="round"/>
<polygon points="52.6,1220.73 52.6,1218.39 54.47,1220.73 61.04,1220.73 62.13,1220.18 63.22,1220.73 80.73,1220.73 81.82,1220.18 87.29,1217.99 96.05,1217.45 98.23,1217.45 108.08,1219.09 112.46,1217.99 116.83,1219.09 127.77,1217.99 131.06,1219.64 138.72,1214.17 145.28,1213.07 151.84,1211.43 155.13,1211.98 158.41,1207.05 164.97,1203.22 168.26,1207.6 172.63,1209.79 177.01,1210.88 182.48,1215.81 185.76,1216.35 190.14,1219.64 197.8,1219.64 201.63,1217.99 206.55,1220.18 213,1220.18 215.16,1220.73 218.45,1218.54 221.73,1220.18 228.29,1219.09 231.58,1220.18 241.42,1220.18 246.89,1215.81 256.74,1219.64 260.02,1217.45 267.68,1216.9 270.96,1219.64 278.62,1217.99 281.9,1219.64 284.64,1215.26 287.37,1219.64 291.75,1217.45 295.03,1219.09 298.32,1215.81 303.79,1217.99 308.16,1212.52 313.63,1215.26 318.01,1210.34 321.29,1210.88 325.12,1204.32 332.23,1208.69 339.89,1213.07 347.55,1217.99 355.21,1215.81 360.68,1215.81 367.24,1217.45 368,1217.91 368,1220.73" fill="#0000ff" stroke="#101060" stroke-width="0.5" stroke-linejoin="round"/>
<polygon points="52.6,1243.42 52.6,1243.42 55.56,1243.42 58.85,1241.23 62.13,1242.87 68.69,1241.78 71.98,1242.87 81.82,1242.87 87.29,1238.5 97.14,1242.33 100.42,1240.14 108.08,1239.59 111.36,1242.33 119.02,1240.68 122.3,1242.33 125.04,1237.95 127.77,1242.33 132.15,1240.14 135.43,1241.78 138.72,1238.5 144.19,1240.68 148.56,1235.21 154.03,1237.95 158.41,1233.03 161.69,1233.57 165.52,1227.01 172.63,1231.38 180.29,1235.76 187.95,1240.68 195.61,1238.5 201.08,1238.5 207.64,1240.14 213,1243.42 221.73,1243.42 225.01,1238.5 230.48,1241.78 234.86,1242.87 240.33,1240.68 247.99,1242.87 254.55,1242.33 258.93,1242.87 268.78,1236.86 272.06,1241.78 277.53,1239.04 284.64,1243.42 368,1243.42 368,1243.42" fill="#0000ff" stroke="#101060" stroke-width="0.5" stroke-linejoin="round"/>
<polygon points="52.6,1266.11 52.6,1266.11 62.13,1266.11 65.41,1261.19 70.88,1264.47 75.26,1265.56 80.73,1263.37 88.39,1265.56 94.95,1265.02 99.33,1265.56 109.18,1259.55 112.46,1264.47 117.93,1261.73 125.04,1266.11 213,1266.11 213,1266.11" fill="#0000ff" stroke="#101060" stroke-width="0.5" stroke-linejoin="round"/>
<line x1="52.6" y1="1061.9" x2="368" y2="1061.9" stroke="#5a5a5a" stroke-width="1.2" />
<line x1="52.6" y1="1084.59" x2="368" y2="1084.59" stroke="#5a5a5a" stroke-width="1.2" />
<line x1="52.6" y1="1107.28" x2="368" y2="1107.28" stroke="#5a5a5a" stroke-width="1.2" />
<line x1="52.6" y1="1129.97" x2="368" y2="1129.97" stroke="#5a5a5a" stroke-width="1.2" />
<line x1="52.6" y1="1152.66" x2="368" y2="1152.66" stroke="#5a5a5a" stroke-width="1.2" />
<line x1="52.6" y1="1175.35" x2="368" y2="1175.35" stroke="#5a5a5a" stroke-width="1.2" />
<line x1="52.6" y1="1198.04" x2="368" y2="1198.04" stroke="#5a5a5a" stroke-width="1.2" />
<line x1="52.6" y1="1220.73" x2="368" y2="1220.73" stroke="#5a5a5a" stroke-width="1.2" />
<line x1="52.6" y1="1243.42" x2="368" y2="1243.42" stroke="#5a5a5a" stroke-width="1.2" />
<line x1="52.6" y1="1266.11" x2="368" y2="1266.11" stroke="#5a5a5a" stroke-width="1.2" />
<line x1="52.6" y1="1040.4" x2="52.6" y2="1269.81" stroke="#666" stroke-width="1.2" />
<line x1="52.6" y1="1269.31" x2="372" y2="1269.31" stroke="#777" stroke-width="1.2" />
<line x1="88.4" y1="1266.81" x2="88.4" y2="1269.31" stroke="#333" stroke-width="1" />
<line x1="128.3" y1="1266.81" x2="128.3" y2="1269.31" stroke="#333" stroke-width="1" />
<line x1="168.2" y1="1266.81" x2="168.2" y2="1269.31" stroke="#333" stroke-width="1" />
<line x1="208.1" y1="1266.81" x2="208.1" y2="1269.31" stroke="#333" stroke-width="1" />
<line x1="248" y1="1266.81" x2="248" y2="1269.31" stroke="#333" stroke-width="1" />
<line x1="287.9" y1="1266.81" x2="287.9" y2="1269.31" stroke="#333" stroke-width="1" />
<line x1="327.8" y1="1266.81" x2="327.8" y2="1269.31" stroke="#333" stroke-width="1" />
<line x1="367.7" y1="1266.81" x2="367.7" y2="1269.31" stroke="#333" stroke-width="1" />
<text transform="translate(40.02,1065.84) scale(1.0000,1.0000)" font-size="10.200" fill="#505050" font-family="&quot;Liberation Sans&quot;, sans-serif">1</text>
<text transform="translate(40.17,1088.63) scale(1.0000,1.0000)" font-size="10.200" fill="#505050" font-family="&quot;Liberation Sans&quot;, sans-serif">2</text>
<text transform="translate(40.17,1111.32) scale(1.0000,1.0000)" font-size="10.200" fill="#505050" font-family="&quot;Liberation Sans&quot;, sans-serif">3</text>
<text transform="translate(40.22,1133.91) scale(1.0000,1.0000)" font-size="10.200" fill="#505050" font-family="&quot;Liberation Sans&quot;, sans-serif">4</text>
<text transform="translate(40.17,1156.6) scale(1.0000,1.0000)" font-size="10.200" fill="#505050" font-family="&quot;Liberation Sans&quot;, sans-serif">5</text>
<text transform="translate(40.12,1179.39) scale(1.0000,1.0000)" font-size="10.200" fill="#505050" font-family="&quot;Liberation Sans&quot;, sans-serif">6</text>
<text transform="translate(40.17,1201.98) scale(1.0000,1.0000)" font-size="10.200" fill="#505050" font-family="&quot;Liberation Sans&quot;, sans-serif">7</text>
<text transform="translate(40.14,1224.77) scale(1.0000,1.0000)" font-size="10.200" fill="#505050" font-family="&quot;Liberation Sans&quot;, sans-serif">8</text>
<text transform="translate(40.17,1247.46) scale(1.0000,1.0000)" font-size="10.200" fill="#505050" font-family="&quot;Liberation Sans&quot;, sans-serif">9</text>
<text transform="translate(37.14,1270.15) scale(1.0000,1.0000)" font-size="10.200" fill="#505050" font-family="&quot;Liberation Sans&quot;, sans-serif">10</text>
<text transform="translate(83.91,1281.22) scale(1.0000,1.0000)" font-size="11.300" fill="#505050" font-family="&quot;Liberation Sans&quot;, sans-serif">6</text>
<text transform="translate(120.59,1281.22) scale(1.0000,1.0000)" font-size="11.300" fill="#505050" font-family="&quot;Liberation Sans&quot;, sans-serif">12</text>
<text transform="translate(160.43,1281.22) scale(1.0000,1.0000)" font-size="11.300" fill="#505050" font-family="&quot;Liberation Sans&quot;, sans-serif">18</text>
<text transform="translate(203.64,1281.22) scale(1.0000,1.0000)" font-size="11.300" fill="#505050" font-family="&quot;Liberation Sans&quot;, sans-serif">0</text>
<text transform="translate(243.51,1281.22) scale(1.0000,1.0000)" font-size="11.300" fill="#505050" font-family="&quot;Liberation Sans&quot;, sans-serif">6</text>
<text transform="translate(280.19,1281.22) scale(1.0000,1.0000)" font-size="11.300" fill="#505050" font-family="&quot;Liberation Sans&quot;, sans-serif">12</text>
<text transform="translate(320.03,1281.22) scale(1.0000,1.0000)" font-size="11.300" fill="#505050" font-family="&quot;Liberation Sans&quot;, sans-serif">18</text>
<text transform="translate(363.24,1281.22) scale(1.0000,1.0000)" font-size="11.300" fill="#505050" font-family="&quot;Liberation Sans&quot;, sans-serif">0</text>
<text transform="translate(194.67,1292.57) scale(1.0000,1.0000)" font-size="9.600" fill="#404040" font-family="&quot;Liberation Sans&quot;, sans-serif">time (h)</text>
<rect x="843.5" y="1043.6" width="16.4" height="226.52" fill="#d6d6d6" />
<rect x="836.9" y="1043.6" width="23" height="21.5" fill="#d6d6d6" />
<rect x="1003.1" y="1043.6" width="16.4" height="203.74" fill="#d6d6d6" />
<rect x="1069.5" y="1224.56" width="86.8" height="22.78" fill="#d6d6d6" />
<rect x="909.3" y="1247.34" width="247" height="22.78" fill="#d6d6d6" />
<rect x="836.9" y="1270.12" width="319.4" height="3.2" fill="#c4c4c4" />
<line x1="872.7" y1="1044.6" x2="872.7" y2="1273.32" stroke="#8a8a8a" stroke-width="0.9" stroke-dasharray="1.3,2.7"/>
<line x1="912.6" y1="1044.6" x2="912.6" y2="1273.32" stroke="#8a8a8a" stroke-width="0.9" stroke-dasharray="1.3,2.7"/>
<line x1="952.5" y1="1044.6" x2="952.5" y2="1273.32" stroke="#8a8a8a" stroke-width="0.9" stroke-dasharray="1.3,2.7"/>
<line x1="992.4" y1="1044.6" x2="992.4" y2="1273.32" stroke="#8a8a8a" stroke-width="0.9" stroke-dasharray="1.3,2.7"/>
<line x1="1032.3" y1="1044.6" x2="1032.3" y2="1273.32" stroke="#8a8a8a" stroke-width="0.9" stroke-dasharray="1.3,2.7"/>
<line x1="1072.2" y1="1044.6" x2="1072.2" y2="1273.32" stroke="#8a8a8a" stroke-width="0.9" stroke-dasharray="1.3,2.7"/>
<line x1="1112.1" y1="1044.6" x2="1112.1" y2="1273.32" stroke="#8a8a8a" stroke-width="0.9" stroke-dasharray="1.3,2.7"/>
<line x1="1152" y1="1044.6" x2="1152" y2="1273.32" stroke="#8a8a8a" stroke-width="0.9" stroke-dasharray="1.3,2.7"/>
<polygon points="836.9,1065.1 836.9,1065.1 854.88,1065.1 855.98,1064.55 858.16,1065.1 862.54,1065.1 865.82,1059.63 870.2,1063.46 873.48,1062.36 876.76,1063.46 883.33,1058.54 889.89,1060.72 892.63,1057.44 896.46,1056.35 900.29,1062.36 906.3,1057.99 909.59,1062.91 912.87,1064.55 916.15,1060.72 923.81,1060.72 929.28,1061.27 935.84,1054.16 941.32,1057.99 946.79,1060.72 950.07,1055.8 953.35,1060.72 962.1,1060.72 965.39,1059.63 970.86,1061.27 976.33,1056.89 982.89,1059.08 986.17,1054.71 989.46,1055.8 992.74,1051.97 997,1059.63 998.07,1058.54 1001.35,1059.08 1009.01,1063.46 1013.39,1062.91 1021.05,1064.55 1025.42,1065.1 1030.89,1063.46 1037.46,1062.36 1042.93,1060.18 1046.21,1064.55 1052.78,1061.27 1059.34,1056.89 1063.72,1060.18 1071.37,1061.82 1075.75,1060.72 1082.32,1055.25 1086.69,1059.63 1088.88,1057.44 1092.16,1061.27 1095.44,1048.69 1098.73,1057.44 1103.1,1056.35 1107.48,1057.44 1111.86,1059.63 1118.97,1051.42 1123.89,1053.61 1129.36,1055.8 1132.64,1058.54 1135.93,1055.8 1140.3,1057.44 1145.77,1053.61 1150.15,1054.71 1152.3,1052.56 1152.3,1065.1" fill="#0000ff" stroke="#101060" stroke-width="0.5" stroke-linejoin="round"/>
<polygon points="836.9,1087.88 836.9,1081.32 838.47,1081.32 841.75,1081.86 849.41,1086.24 853.79,1085.69 861.45,1087.33 865.82,1087.88 871.29,1086.24 877.86,1085.14 883.33,1082.96 886.61,1087.33 893.18,1084.05 899.74,1079.67 904.12,1082.96 911.77,1084.6 916.15,1083.5 922.72,1078.03 927.09,1082.41 929.28,1080.22 932.56,1084.05 935.84,1071.47 939.13,1080.22 943.5,1079.13 947.88,1080.22 952.26,1082.41 959.37,1074.2 964.29,1076.39 969.76,1078.58 973.04,1081.32 976.33,1078.58 980.7,1080.22 986.17,1076.39 990.55,1077.49 992.74,1075.3 997,1084.6 997.52,1084.05 999.16,1085.14 1003.54,1083.5 1006.82,1086.24 1011.2,1087.33 1023.23,1087.33 1029.8,1084.05 1038.55,1086.24 1046.21,1083.5 1049.49,1077.49 1052.78,1075.84 1057.15,1082.41 1059.34,1081.32 1063.72,1084.05 1069.19,1074.75 1075.75,1080.77 1081.22,1075.3 1088.88,1082.41 1092.71,1083.5 1095.44,1079.67 1098.73,1080.22 1104.2,1078.03 1108.57,1077.49 1112.95,1080.22 1118.97,1083.5 1122.8,1078.03 1129.36,1076.39 1132.64,1080.22 1139.21,1081.86 1142.49,1076.39 1145.77,1076.94 1151.24,1067.64 1152.3,1069.9 1152.3,1087.88" fill="#0000ff" stroke="#101060" stroke-width="0.5" stroke-linejoin="round"/>
<polygon points="836.9,1110.66 836.9,1107.17 837.92,1106.83 839.56,1107.92 843.94,1106.28 847.22,1109.02 851.6,1110.11 863.63,1110.11 870.2,1106.83 878.95,1109.02 886.61,1106.28 889.89,1100.27 893.18,1098.62 897.55,1105.19 899.74,1104.1 904.12,1106.83 909.59,1097.53 916.15,1103.55 921.62,1098.08 929.28,1105.19 933.11,1106.28 935.84,1102.45 939.13,1103 944.6,1100.81 948.97,1100.27 953.35,1103 959.37,1106.28 963.2,1100.81 969.76,1099.17 973.04,1103 979.61,1104.64 982.89,1099.17 986.17,1099.72 991.64,1090.42 997,1101.91 1003.54,1107.92 1006.82,1109.02 1009.01,1107.92 1012.29,1110.11 1019.95,1110.11 1025.42,1109.02 1031.99,1104.64 1038.55,1109.57 1042.93,1107.92 1049.49,1108.47 1054.96,1103.55 1059.34,1102.45 1069.19,1109.57 1075.75,1107.38 1079.03,1102.45 1082.32,1107.38 1086.69,1105.74 1088.88,1107.38 1093.26,1103 1102.01,1101.91 1105.84,1098.62 1111.86,1103.55 1118.42,1099.72 1126.08,1103 1131.55,1100.27 1134.83,1100.81 1142.49,1097.53 1149.06,1101.36 1152.3,1099.74 1152.3,1110.66" fill="#0000ff" stroke="#101060" stroke-width="0.5" stroke-linejoin="round"/>
<polygon points="836.9,1133.44 836.9,1123.35 837.38,1123.59 843.94,1130.7 847.22,1131.8 849.41,1130.7 852.69,1132.89 860.35,1132.89 865.82,1131.8 872.39,1127.42 878.95,1132.35 883.33,1130.7 889.89,1131.25 895.36,1126.33 899.74,1125.23 909.59,1132.35 916.15,1130.16 919.43,1125.23 922.72,1130.16 927.09,1128.52 929.28,1130.16 933.66,1125.78 942.41,1124.69 946.24,1121.4 952.26,1126.33 958.82,1122.5 966.48,1125.78 971.95,1123.05 975.23,1123.59 982.89,1120.31 989.46,1124.14 992.74,1122.5 997,1123.59 1001.35,1127.97 1005.73,1132.89 1019.95,1133.44 1028.71,1132.89 1038.55,1132.89 1042.93,1132.89 1045.12,1130.16 1051.68,1127.97 1056.06,1126.88 1059.34,1127.97 1062.62,1123.59 1065.36,1125.23 1069.19,1121.95 1073.56,1124.69 1079.03,1125.78 1088.88,1130.7 1093.26,1129.06 1096.54,1124.69 1100.92,1123.59 1104.2,1124.69 1110.76,1123.59 1117.33,1120.86 1123.89,1119.22 1129.36,1121.4 1132.64,1126.88 1135.93,1125.78 1139.21,1126.88 1142.49,1118.67 1150.15,1120.31 1152.3,1121.77 1152.3,1133.44" fill="#0000ff" stroke="#101060" stroke-width="0.5" stroke-linejoin="round"/>
<polygon points="836.9,1156.22 836.9,1146.68 837.38,1146.92 841.75,1150.75 846.13,1155.67 860.35,1156.22 869.11,1155.67 878.95,1155.67 883.33,1155.67 885.52,1152.94 892.08,1150.75 896.46,1149.66 899.74,1150.75 903.02,1146.37 905.76,1148.01 909.59,1144.73 913.96,1147.47 919.43,1148.56 929.28,1153.48 933.66,1151.84 936.94,1147.47 941.32,1146.37 944.6,1147.47 951.16,1146.37 957.73,1143.64 964.29,1142 969.76,1144.18 973.04,1149.66 976.33,1148.56 979.61,1149.66 982.89,1141.45 990.55,1143.09 997,1147.47 1001.35,1153.48 1003.54,1155.67 1025.42,1156.22 1029.8,1154.58 1034.18,1155.67 1044.02,1155.67 1050.59,1154.58 1056.06,1149.66 1062.62,1155.13 1069.19,1152.39 1073.56,1152.39 1075.75,1154.03 1079.03,1146.92 1085.6,1151.3 1088.88,1150.75 1092.16,1146.92 1095.44,1147.47 1099.27,1143.64 1106.39,1149.11 1111.86,1147.47 1116.78,1144.73 1120.61,1146.92 1125.53,1144.18 1129.36,1149.11 1132.64,1146.37 1138.66,1150.2 1142.49,1144.73 1147.96,1142.54 1152.3,1144.47 1152.3,1156.22" fill="#0000ff" stroke="#101060" stroke-width="0.5" stroke-linejoin="round"/>
<polygon points="836.9,1179 836.9,1169.46 837.38,1169.7 841.75,1176.26 843.94,1178.45 865.82,1179 870.2,1177.36 874.58,1178.45 884.42,1178.45 890.99,1177.36 896.46,1172.44 903.02,1177.91 909.59,1175.17 913.96,1175.17 916.15,1176.81 919.43,1169.7 926,1174.08 929.28,1173.53 932.56,1169.7 935.84,1170.25 939.67,1166.42 946.79,1171.89 952.26,1170.25 957.18,1167.51 961.01,1169.7 965.93,1166.96 969.76,1171.89 973.04,1169.15 979.06,1172.98 982.89,1167.51 988.36,1165.32 997,1169.15 1001.35,1176.81 1003.54,1178.45 1033.08,1179 1034.18,1178.45 1037.46,1177.91 1041.83,1177.36 1045.12,1175.72 1049.49,1177.36 1057.15,1177.36 1060.43,1179 1062.62,1172.44 1065.9,1170.79 1071.37,1174.08 1075.75,1175.17 1080.13,1172.98 1086.69,1169.7 1088.88,1174.62 1093.26,1169.7 1096.54,1170.25 1099.27,1173.53 1105.29,1170.79 1112.95,1167.51 1121.7,1168.61 1125.53,1175.17 1129.36,1174.08 1132.64,1169.7 1135.93,1170.25 1139.21,1168.06 1144.68,1167.51 1149.06,1164.23 1152.3,1166.93 1152.3,1179" fill="#0000ff" stroke="#101060" stroke-width="0.5" stroke-linejoin="round"/>
<polygon points="836.9,1201.78 836.9,1192.24 837.38,1192.48 841.75,1199.59 843.94,1201.23 873.48,1201.78 874.58,1201.23 877.86,1200.69 882.23,1200.14 885.52,1198.5 889.89,1200.14 897.55,1200.14 900.83,1201.78 903.02,1195.22 906.3,1193.57 911.77,1196.86 916.15,1197.95 920.53,1195.76 927.09,1192.48 929.28,1197.4 933.66,1192.48 936.94,1193.03 939.67,1196.31 945.69,1193.57 953.35,1190.29 962.1,1191.39 965.93,1197.95 969.76,1196.86 973.04,1192.48 976.33,1193.03 979.61,1190.84 985.08,1190.29 989.46,1187.01 992.74,1189.74 997,1189.74 1003.54,1201.23 1005.73,1201.78 1036.36,1201.78 1038.55,1200.14 1045.12,1201.23 1049.49,1199.04 1057.15,1199.04 1061.53,1193.57 1064.81,1198.5 1069.19,1193.03 1072.47,1193.57 1075.75,1198.5 1079.03,1198.5 1081.22,1195.76 1085.6,1193.57 1088.88,1196.86 1094.35,1197.4 1100.92,1193.57 1105.29,1194.12 1109.12,1190.29 1112.95,1194.12 1116.23,1193.03 1119.51,1196.31 1124.99,1193.03 1131.55,1194.67 1137.02,1196.31 1142.49,1190.84 1145.77,1191.93 1151.24,1189.2 1152.3,1189.84 1152.3,1201.78" fill="#0000ff" stroke="#101060" stroke-width="0.5" stroke-linejoin="round"/>
<polygon points="836.9,1224.56 836.9,1213.38 837.38,1213.62 843.94,1224.01 846.13,1224.56 876.76,1224.56 878.95,1222.92 885.52,1224.01 889.89,1221.82 897.55,1221.82 901.93,1216.35 905.21,1221.28 909.59,1215.81 912.87,1216.35 916.15,1221.28 919.43,1221.28 921.62,1218.54 926,1216.35 929.28,1219.64 934.75,1220.18 941.32,1216.35 945.69,1216.9 949.52,1213.07 953.35,1216.9 956.63,1215.81 959.91,1219.09 965.39,1215.81 971.95,1217.45 977.42,1219.09 982.89,1213.62 986.17,1214.71 991.64,1211.98 997,1215.26 999.16,1217.45 1004.64,1224.01 1006.82,1224.56 1035.27,1224.56 1036.36,1224.01 1039.65,1222.92 1044.02,1224.01 1049.49,1215.26 1053.87,1222.37 1058.25,1221.28 1062.62,1220.18 1065.9,1216.35 1069.19,1221.82 1073.56,1222.37 1079.03,1220.18 1086.14,1213.62 1089.97,1216.9 1095.44,1216.9 1100.92,1218.54 1106.39,1216.35 1112.4,1213.62 1117.33,1215.81 1121.7,1215.26 1129.36,1219.09 1135.93,1220.73 1142.49,1216.35 1146.87,1213.62 1151.24,1211.98 1152.3,1212.3 1152.3,1224.56" fill="#0000ff" stroke="#101060" stroke-width="0.5" stroke-linejoin="round"/>
<polygon points="836.9,1247.34 836.9,1238.9 837.38,1239.13 839.56,1240.23 845.04,1246.79 847.22,1247.34 875.67,1247.34 876.76,1246.79 880.05,1245.7 884.42,1246.79 889.89,1238.04 894.27,1245.15 898.65,1244.06 903.02,1242.96 906.3,1239.13 909.59,1244.6 913.96,1245.15 919.43,1242.96 926.54,1236.4 930.37,1239.68 935.84,1239.68 941.32,1241.32 946.79,1239.13 952.8,1236.4 957.73,1238.59 962.1,1238.04 969.76,1241.87 976.33,1243.51 982.89,1239.13 987.27,1236.4 991.64,1234.76 997,1236.4 1002.45,1239.68 1004.64,1243.51 1007.92,1246.79 1010.11,1247.34 1018.86,1246.79 1025.42,1244.6 1031.99,1246.79 1034.18,1247.34 1042.93,1247.34 1044.02,1245.7 1048.4,1246.79 1053.87,1242.96 1058.25,1244.6 1062.07,1242.96 1069.19,1247.34 1152.3,1247.34 1152.3,1247.34" fill="#0000ff" stroke="#101060" stroke-width="0.5" stroke-linejoin="round"/>
<polygon points="836.9,1270.12 836.9,1258.94 837.38,1259.18 842.85,1262.46 845.04,1266.29 848.32,1269.57 850.51,1270.12 859.26,1269.57 865.82,1267.38 872.39,1269.57 874.58,1270.12 883.33,1270.12 884.42,1268.48 888.8,1269.57 894.27,1265.74 898.65,1267.38 902.47,1265.74 909.59,1270.12 997,1270.12 997,1270.12" fill="#0000ff" stroke="#101060" stroke-width="0.5" stroke-linejoin="round"/>
<line x1="836.9" y1="1065.1" x2="1152.3" y2="1065.1" stroke="#5a5a5a" stroke-width="1.2" />
<line x1="836.9" y1="1087.88" x2="1152.3" y2="1087.88" stroke="#5a5a5a" stroke-width="1.2" />
<line x1="836.9" y1="1110.66" x2="1152.3" y2="1110.66" stroke="#5a5a5a" stroke-width="1.2" />
<line x1="836.9" y1="1133.44" x2="1152.3" y2="1133.44" stroke="#5a5a5a" stroke-width="1.2" />
<line x1="836.9" y1="1156.22" x2="1152.3" y2="1156.22" stroke="#5a5a5a" stroke-width="1.2" />
<line x1="836.9" y1="1179" x2="1152.3" y2="1179" stroke="#5a5a5a" stroke-width="1.2" />
<line x1="836.9" y1="1201.78" x2="1152.3" y2="1201.78" stroke="#5a5a5a" stroke-width="1.2" />
<line x1="836.9" y1="1224.56" x2="1152.3" y2="1224.56" stroke="#5a5a5a" stroke-width="1.2" />
<line x1="836.9" y1="1247.34" x2="1152.3" y2="1247.34" stroke="#5a5a5a" stroke-width="1.2" />
<line x1="836.9" y1="1270.12" x2="1152.3" y2="1270.12" stroke="#5a5a5a" stroke-width="1.2" />
<line x1="836.9" y1="1043.6" x2="836.9" y2="1273.82" stroke="#666" stroke-width="1.2" />
<line x1="836.9" y1="1273.32" x2="1156.3" y2="1273.32" stroke="#777" stroke-width="1.2" />
<line x1="872.7" y1="1270.82" x2="872.7" y2="1273.32" stroke="#333" stroke-width="1" />
<line x1="912.6" y1="1270.82" x2="912.6" y2="1273.32" stroke="#333" stroke-width="1" />
<line x1="952.5" y1="1270.82" x2="952.5" y2="1273.32" stroke="#333" stroke-width="1" />
<line x1="992.4" y1="1270.82" x2="992.4" y2="1273.32" stroke="#333" stroke-width="1" />
<line x1="1032.3" y1="1270.82" x2="1032.3" y2="1273.32" stroke="#333" stroke-width="1" />
<line x1="1072.2" y1="1270.82" x2="1072.2" y2="1273.32" stroke="#333" stroke-width="1" />
<line x1="1112.1" y1="1270.82" x2="1112.1" y2="1273.32" stroke="#333" stroke-width="1" />
<line x1="1152" y1="1270.82" x2="1152" y2="1273.32" stroke="#333" stroke-width="1" />
<text transform="translate(824.32,1069.04) scale(1.0000,1.0000)" font-size="10.200" fill="#505050" font-family="&quot;Liberation Sans&quot;, sans-serif">1</text>
<text transform="translate(824.47,1091.92) scale(1.0000,1.0000)" font-size="10.200" fill="#505050" font-family="&quot;Liberation Sans&quot;, sans-serif">2</text>
<text transform="translate(824.47,1114.7) scale(1.0000,1.0000)" font-size="10.200" fill="#505050" font-family="&quot;Liberation Sans&quot;, sans-serif">3</text>
<text transform="translate(824.52,1137.38) scale(1.0000,1.0000)" font-size="10.200" fill="#505050" font-family="&quot;Liberation Sans&quot;, sans-serif">4</text>
<text transform="translate(824.47,1160.16) scale(1.0000,1.0000)" font-size="10.200" fill="#505050" font-family="&quot;Liberation Sans&quot;, sans-serif">5</text>
<text transform="translate(824.42,1183.04) scale(1.0000,1.0000)" font-size="10.200" fill="#505050" font-family="&quot;Liberation Sans&quot;, sans-serif">6</text>
<text transform="translate(824.47,1205.72) scale(1.0000,1.0000)" font-size="10.200" fill="#505050" font-family="&quot;Liberation Sans&quot;, sans-serif">7</text>
<text transform="translate(824.44,1228.6) scale(1.0000,1.0000)" font-size="10.200" fill="#505050" font-family="&quot;Liberation Sans&quot;, sans-serif">8</text>
<text transform="translate(824.47,1251.38) scale(1.0000,1.0000)" font-size="10.200" fill="#505050" font-family="&quot;Liberation Sans&quot;, sans-serif">9</text>
<text transform="translate(821.44,1274.16) scale(1.0000,1.0000)" font-size="10.200" fill="#505050" font-family="&quot;Liberation Sans&quot;, sans-serif">10</text>
<text transform="translate(868.21,1285.23) scale(1.0000,1.0000)" font-size="11.300" fill="#505050" font-family="&quot;Liberation Sans&quot;, sans-serif">6</text>
<text transform="translate(904.89,1285.23) scale(1.0000,1.0000)" font-size="11.300" fill="#505050" font-family="&quot;Liberation Sans&quot;, sans-serif">12</text>
<text transform="translate(944.73,1285.23) scale(1.0000,1.0000)" font-size="11.300" fill="#505050" font-family="&quot;Liberation Sans&quot;, sans-serif">18</text>
<text transform="translate(987.94,1285.23) scale(1.0000,1.0000)" font-size="11.300" fill="#505050" font-family="&quot;Liberation Sans&quot;, sans-serif">0</text>
<text transform="translate(1027.81,1285.23) scale(1.0000,1.0000)" font-size="11.300" fill="#505050" font-family="&quot;Liberation Sans&quot;, sans-serif">6</text>
<text transform="translate(1064.49,1285.23) scale(1.0000,1.0000)" font-size="11.300" fill="#505050" font-family="&quot;Liberation Sans&quot;, sans-serif">12</text>
<text transform="translate(1104.33,1285.23) scale(1.0000,1.0000)" font-size="11.300" fill="#505050" font-family="&quot;Liberation Sans&quot;, sans-serif">18</text>
<text transform="translate(1147.54,1285.23) scale(1.0000,1.0000)" font-size="11.300" fill="#505050" font-family="&quot;Liberation Sans&quot;, sans-serif">0</text>
<text transform="translate(978.97,1296.58) scale(1.0000,1.0000)" font-size="9.600" fill="#404040" font-family="&quot;Liberation Sans&quot;, sans-serif">time (h)</text>
<line x1="376.5" y1="890.4" x2="712" y2="890.4" stroke="#cfcfcf" stroke-width="1" />
<line x1="38.3" y1="1300.5" x2="373.6" y2="1300.5" stroke="#9a9a9a" stroke-width="1" />
<line x1="821.7" y1="1304.3" x2="1157.6" y2="1304.3" stroke="#9a9a9a" stroke-width="1" />
<line x1="1162.8" y1="1300.6" x2="1499" y2="1300.6" stroke="#cfcfcf" stroke-width="1" />
<line x1="403.4" y1="642.4" x2="403.4" y2="861.2" stroke="#666" stroke-width="1" />
<line x1="403.4" y1="861.2" x2="709.8" y2="861.2" stroke="#666" stroke-width="1" />
<line x1="403.4" y1="861.2" x2="405.9" y2="861.2" stroke="#666" stroke-width="0.8" />
<text transform="translate(395.1,864.46) scale(1.0000,1.0000)" font-size="9.800" fill="#505050" font-family="&quot;Liberation Sans&quot;, sans-serif">0</text>
<line x1="403.4" y1="824.82" x2="405.9" y2="824.82" stroke="#666" stroke-width="0.8" />
<text transform="translate(395.15,827.98) scale(1.0000,1.0000)" font-size="9.800" fill="#505050" font-family="&quot;Liberation Sans&quot;, sans-serif">5</text>
<line x1="403.4" y1="788.43" x2="405.9" y2="788.43" stroke="#666" stroke-width="0.8" />
<text transform="translate(389.66,791.69) scale(1.0000,1.0000)" font-size="9.800" fill="#505050" font-family="&quot;Liberation Sans&quot;, sans-serif">10</text>
<line x1="403.4" y1="752.05" x2="405.9" y2="752.05" stroke="#666" stroke-width="0.8" />
<text transform="translate(389.71,755.21) scale(1.0000,1.0000)" font-size="9.800" fill="#505050" font-family="&quot;Liberation Sans&quot;, sans-serif">15</text>
<line x1="403.4" y1="715.67" x2="405.9" y2="715.67" stroke="#666" stroke-width="0.8" />
<text transform="translate(389.66,718.93) scale(1.0000,1.0000)" font-size="9.800" fill="#505050" font-family="&quot;Liberation Sans&quot;, sans-serif">20</text>
<line x1="403.4" y1="679.28" x2="405.9" y2="679.28" stroke="#666" stroke-width="0.8" />
<text transform="translate(389.71,682.54) scale(1.0000,1.0000)" font-size="9.800" fill="#505050" font-family="&quot;Liberation Sans&quot;, sans-serif">25</text>
<line x1="403.4" y1="642.9" x2="405.9" y2="642.9" stroke="#666" stroke-width="0.8" />
<text transform="translate(389.66,646.16) scale(1.0000,1.0000)" font-size="9.800" fill="#505050" font-family="&quot;Liberation Sans&quot;, sans-serif">30</text>
<line x1="446.9" y1="861.2" x2="446.9" y2="858.7" stroke="#666" stroke-width="0.8" />
<text transform="translate(444.13,872.86) scale(1.0000,1.0000)" font-size="9.800" fill="#505050" font-family="&quot;Liberation Sans&quot;, sans-serif">6</text>
<line x1="523.5" y1="861.2" x2="523.5" y2="858.7" stroke="#666" stroke-width="0.8" />
<text transform="translate(517.94,872.86) scale(1.0000,1.0000)" font-size="9.800" fill="#505050" font-family="&quot;Liberation Sans&quot;, sans-serif">12</text>
<line x1="600.1" y1="861.2" x2="600.1" y2="858.7" stroke="#666" stroke-width="0.8" />
<text transform="translate(594.49,872.86) scale(1.0000,1.0000)" font-size="9.800" fill="#505050" font-family="&quot;Liberation Sans&quot;, sans-serif">18</text>
<line x1="676.7" y1="861.2" x2="676.7" y2="858.7" stroke="#666" stroke-width="0.8" />
<text transform="translate(673.96,872.86) scale(1.0000,1.0000)" font-size="9.800" fill="#505050" font-family="&quot;Liberation Sans&quot;, sans-serif">0</text>
<rect x="403.4" y="855.36" width="6.38" height="5.84" fill="#777" stroke="#505050" stroke-width="0.85"/>
<rect x="409.78" y="851.4" width="6.38" height="9.8" fill="#fff" stroke="#505050" stroke-width="0.85"/>
<rect x="416.17" y="853.5" width="6.38" height="7.7" fill="#fff" stroke="#505050" stroke-width="0.85"/>
<rect x="422.55" y="841.36" width="6.38" height="19.84" fill="#fff" stroke="#505050" stroke-width="0.85"/>
<rect x="428.93" y="843.22" width="6.38" height="17.98" fill="#fff" stroke="#505050" stroke-width="0.85"/>
<rect x="435.32" y="849.53" width="6.38" height="11.67" fill="#fff" stroke="#505050" stroke-width="0.85"/>
<rect x="441.7" y="843.22" width="6.38" height="17.98" fill="#fff" stroke="#505050" stroke-width="0.85"/>
<rect x="448.08" y="855.36" width="6.38" height="5.84" fill="#fff" stroke="#505050" stroke-width="0.85"/>
<rect x="454.47" y="849.53" width="6.38" height="11.67" fill="#fff" stroke="#505050" stroke-width="0.85"/>
<rect x="460.85" y="842.52" width="6.38" height="18.68" fill="#fff" stroke="#505050" stroke-width="0.85"/>
<rect x="467.23" y="847.19" width="6.38" height="14.01" fill="#fff" stroke="#505050" stroke-width="0.85"/>
<rect x="473.62" y="860.03" width="6.38" height="1.17" fill="#fff" stroke="#505050" stroke-width="0.85"/>
<rect x="480" y="844.39" width="6.38" height="16.81" fill="#fff" stroke="#505050" stroke-width="0.85"/>
<rect x="486.38" y="854.2" width="6.38" height="7" fill="#fff" stroke="#505050" stroke-width="0.85"/>
<rect x="492.77" y="855.36" width="6.38" height="5.84" fill="#fff" stroke="#505050" stroke-width="0.85"/>
<rect x="499.15" y="857" width="6.38" height="4.2" fill="#fff" stroke="#505050" stroke-width="0.85"/>
<rect x="505.53" y="854.2" width="6.38" height="7" fill="#fff" stroke="#505050" stroke-width="0.85"/>
<rect x="511.92" y="860.73" width="6.38" height="0.47" fill="#fff" stroke="#505050" stroke-width="0.85"/>
<rect x="518.3" y="853.03" width="6.38" height="8.17" fill="#fff" stroke="#505050" stroke-width="0.85"/>
<rect x="524.68" y="856.06" width="6.38" height="5.14" fill="#fff" stroke="#505050" stroke-width="0.85"/>
<rect x="531.07" y="857" width="6.38" height="4.2" fill="#fff" stroke="#505050" stroke-width="0.85"/>
<rect x="537.45" y="853.03" width="6.38" height="8.17" fill="#fff" stroke="#505050" stroke-width="0.85"/>
<rect x="543.83" y="857" width="6.38" height="4.2" fill="#fff" stroke="#505050" stroke-width="0.85"/>
<rect x="550.22" y="851.4" width="6.38" height="9.8" fill="#fff" stroke="#505050" stroke-width="0.85"/>
<rect x="556.6" y="853.03" width="6.38" height="8.17" fill="#fff" stroke="#505050" stroke-width="0.85"/>
<rect x="562.98" y="837.15" width="6.38" height="24.05" fill="#fff" stroke="#505050" stroke-width="0.85"/>
<rect x="569.37" y="808.21" width="6.38" height="52.99" fill="#fff" stroke="#505050" stroke-width="0.85"/>
<rect x="575.75" y="780.19" width="6.38" height="81.01" fill="#fff" stroke="#505050" stroke-width="0.85"/>
<rect x="582.13" y="742.61" width="6.38" height="118.59" fill="#fff" stroke="#505050" stroke-width="0.85"/>
<rect x="588.52" y="661.13" width="6.38" height="200.07" fill="#fff" stroke="#505050" stroke-width="0.85"/>
<rect x="594.9" y="665.57" width="6.38" height="195.63" fill="#fff" stroke="#505050" stroke-width="0.85"/>
<rect x="601.28" y="720.43" width="6.38" height="140.77" fill="#fff" stroke="#505050" stroke-width="0.85"/>
<rect x="607.67" y="695.45" width="6.38" height="165.75" fill="#fff" stroke="#505050" stroke-width="0.85"/>
<rect x="614.05" y="701.75" width="6.38" height="159.45" fill="#fff" stroke="#505050" stroke-width="0.85"/>
<rect x="620.43" y="735.14" width="6.38" height="126.06" fill="#fff" stroke="#505050" stroke-width="0.85"/>
<rect x="626.82" y="749.14" width="6.38" height="112.06" fill="#fff" stroke="#505050" stroke-width="0.85"/>
<rect x="633.2" y="779.03" width="6.38" height="82.17" fill="#fff" stroke="#505050" stroke-width="0.85"/>
<rect x="639.58" y="798.17" width="6.38" height="63.03" fill="#fff" stroke="#505050" stroke-width="0.85"/>
<rect x="645.97" y="783.46" width="6.38" height="77.74" fill="#fff" stroke="#505050" stroke-width="0.85"/>
<rect x="652.35" y="794.2" width="6.38" height="67" fill="#fff" stroke="#505050" stroke-width="0.85"/>
<rect x="658.73" y="781.36" width="6.38" height="79.84" fill="#fff" stroke="#505050" stroke-width="0.85"/>
<rect x="665.12" y="840.19" width="6.38" height="21.01" fill="#fff" stroke="#505050" stroke-width="0.85"/>
<rect x="671.5" y="837.15" width="6.38" height="24.05" fill="#fff" stroke="#505050" stroke-width="0.85"/>
<rect x="677.88" y="840.89" width="6.38" height="20.31" fill="#fff" stroke="#505050" stroke-width="0.85"/>
<rect x="684.27" y="857.7" width="6.38" height="3.5" fill="#777" stroke="#505050" stroke-width="0.85"/>
<rect x="690.65" y="857" width="6.38" height="4.2" fill="#777" stroke="#505050" stroke-width="0.85"/>
<rect x="697.03" y="853.73" width="6.38" height="7.47" fill="#777" stroke="#505050" stroke-width="0.85"/>
<rect x="703.42" y="855.36" width="6.38" height="5.84" fill="#777" stroke="#505050" stroke-width="0.85"/>
<circle cx="406.59" cy="851.4" r="1.45" fill="#2a2af0"/>
<circle cx="412.97" cy="847.19" r="1.45" fill="#2a2af0"/>
<circle cx="419.36" cy="847.89" r="1.45" fill="#2a2af0"/>
<circle cx="425.74" cy="833.89" r="1.45" fill="#2a2af0"/>
<circle cx="432.12" cy="835.52" r="1.45" fill="#2a2af0"/>
<circle cx="438.51" cy="847.89" r="1.45" fill="#2a2af0"/>
<circle cx="444.89" cy="833.89" r="1.45" fill="#2a2af0"/>
<circle cx="451.27" cy="853.73" r="1.45" fill="#2a2af0"/>
<circle cx="457.66" cy="841.82" r="1.45" fill="#2a2af0"/>
<circle cx="464.04" cy="833.89" r="1.45" fill="#2a2af0"/>
<circle cx="470.42" cy="837.39" r="1.45" fill="#2a2af0"/>
<circle cx="476.81" cy="858.87" r="1.45" fill="#2a2af0"/>
<circle cx="483.19" cy="836.22" r="1.45" fill="#2a2af0"/>
<circle cx="489.57" cy="850.23" r="1.45" fill="#2a2af0"/>
<circle cx="495.96" cy="850.93" r="1.45" fill="#2a2af0"/>
<circle cx="502.34" cy="854.66" r="1.45" fill="#2a2af0"/>
<circle cx="508.72" cy="852.33" r="1.45" fill="#2a2af0"/>
<circle cx="515.11" cy="860.73" r="1.45" fill="#2a2af0"/>
<circle cx="521.49" cy="849.06" r="1.45" fill="#2a2af0"/>
<circle cx="527.88" cy="854.66" r="1.45" fill="#2a2af0"/>
<circle cx="534.26" cy="854.66" r="1.45" fill="#2a2af0"/>
<circle cx="540.64" cy="849.06" r="1.45" fill="#2a2af0"/>
<circle cx="547.02" cy="854.66" r="1.45" fill="#2a2af0"/>
<circle cx="553.41" cy="847.43" r="1.45" fill="#2a2af0"/>
<circle cx="559.79" cy="849.06" r="1.45" fill="#2a2af0"/>
<circle cx="566.18" cy="830.38" r="1.45" fill="#2a2af0"/>
<circle cx="572.56" cy="802.37" r="1.45" fill="#2a2af0"/>
<circle cx="578.94" cy="768.52" r="1.45" fill="#2a2af0"/>
<circle cx="585.33" cy="734.44" r="1.45" fill="#2a2af0"/>
<circle cx="591.71" cy="643.39" r="1.45" fill="#2a2af0"/>
<circle cx="598.09" cy="648.99" r="1.45" fill="#2a2af0"/>
<circle cx="604.48" cy="716.93" r="1.45" fill="#2a2af0"/>
<circle cx="610.86" cy="677.24" r="1.45" fill="#2a2af0"/>
<circle cx="617.24" cy="700.59" r="1.45" fill="#2a2af0"/>
<circle cx="623.62" cy="723" r="1.45" fill="#2a2af0"/>
<circle cx="630.01" cy="737.7" r="1.45" fill="#2a2af0"/>
<circle cx="636.39" cy="771.32" r="1.45" fill="#2a2af0"/>
<circle cx="642.77" cy="783.46" r="1.45" fill="#2a2af0"/>
<circle cx="649.16" cy="772.96" r="1.45" fill="#2a2af0"/>
<circle cx="655.54" cy="779.03" r="1.45" fill="#2a2af0"/>
<circle cx="661.93" cy="758.01" r="1.45" fill="#2a2af0"/>
<circle cx="668.31" cy="833.19" r="1.45" fill="#2a2af0"/>
<circle cx="674.69" cy="830.15" r="1.45" fill="#2a2af0"/>
<circle cx="681.07" cy="833.89" r="1.45" fill="#2a2af0"/>
<circle cx="687.46" cy="856.53" r="1.45" fill="#2a2af0"/>
<circle cx="693.84" cy="856.06" r="1.45" fill="#2a2af0"/>
<circle cx="700.23" cy="851.86" r="1.45" fill="#2a2af0"/>
<circle cx="706.61" cy="853.03" r="1.45" fill="#2a2af0"/>
<text transform="translate(408.46,664.37) scale(1.0015,1.0000)" font-size="9.200" fill="#333" font-family="&quot;Liberation Sans&quot;, sans-serif">Mean on=6.5 off=0.7 all=5.9</text>
<text transform="translate(383.36,779.01) rotate(-90) scale(1.0632,1)" font-size="8.770" fill="#444" font-family="&quot;Liberation Sans&quot;, sans-serif">mean activity</text>
<text transform="translate(542.33,885.06) scale(1.0000,1.0000)" font-size="9.600" fill="#404040" font-family="&quot;Liberation Sans&quot;, sans-serif">hours</text>
<polyline points="408.2,647.4 454.1,630 485.6,617.2 519.4,606.7 560.3,596.2 594.1,606.7 638.5,618.4 653.7,624.2 675.9,630 685.2,633.5 709.7,646.4" fill="none" stroke="#4472C4" stroke-width="5" stroke-linejoin="round" stroke-linecap="round" />
<defs><linearGradient id="g403L" x1="0" x2="1" y1="0" y2="0"><stop offset="0" stop-color="#6e6e6e"/><stop offset="1" stop-color="#ffc000"/></linearGradient><linearGradient id="g403R" x1="0" x2="1" y1="0" y2="0"><stop offset="0" stop-color="#ffc000"/><stop offset="1" stop-color="#6e6e6e"/></linearGradient></defs>
<polygon points="410.9,885.7 486,874 486,898.6" fill="url(#g403L)" />
<polygon points="633.8,874 633.8,898.6 681.7,885.7" fill="url(#g403R)" />
<line x1="1186.6" y1="639.8" x2="1186.6" y2="859.2" stroke="#666" stroke-width="1" />
<line x1="1186.6" y1="859.2" x2="1493" y2="859.2" stroke="#666" stroke-width="1" />
<line x1="1186.6" y1="859.2" x2="1189.1" y2="859.2" stroke="#666" stroke-width="0.8" />
<text transform="translate(1178.3,862.46) scale(1.0000,1.0000)" font-size="9.800" fill="#505050" font-family="&quot;Liberation Sans&quot;, sans-serif">0</text>
<line x1="1186.6" y1="827.93" x2="1189.1" y2="827.93" stroke="#666" stroke-width="0.8" />
<text transform="translate(1178.35,831.09) scale(1.0000,1.0000)" font-size="9.800" fill="#505050" font-family="&quot;Liberation Sans&quot;, sans-serif">5</text>
<line x1="1186.6" y1="796.66" x2="1189.1" y2="796.66" stroke="#666" stroke-width="0.8" />
<text transform="translate(1172.86,799.92) scale(1.0000,1.0000)" font-size="9.800" fill="#505050" font-family="&quot;Liberation Sans&quot;, sans-serif">10</text>
<line x1="1186.6" y1="765.39" x2="1189.1" y2="765.39" stroke="#666" stroke-width="0.8" />
<text transform="translate(1172.91,768.55) scale(1.0000,1.0000)" font-size="9.800" fill="#505050" font-family="&quot;Liberation Sans&quot;, sans-serif">15</text>
<line x1="1186.6" y1="734.11" x2="1189.1" y2="734.11" stroke="#666" stroke-width="0.8" />
<text transform="translate(1172.86,737.37) scale(1.0000,1.0000)" font-size="9.800" fill="#505050" font-family="&quot;Liberation Sans&quot;, sans-serif">20</text>
<line x1="1186.6" y1="702.84" x2="1189.1" y2="702.84" stroke="#666" stroke-width="0.8" />
<text transform="translate(1172.91,706.1) scale(1.0000,1.0000)" font-size="9.800" fill="#505050" font-family="&quot;Liberation Sans&quot;, sans-serif">25</text>
<line x1="1186.6" y1="671.57" x2="1189.1" y2="671.57" stroke="#666" stroke-width="0.8" />
<text transform="translate(1172.86,674.83) scale(1.0000,1.0000)" font-size="9.800" fill="#505050" font-family="&quot;Liberation Sans&quot;, sans-serif">30</text>
<line x1="1186.6" y1="640.3" x2="1189.1" y2="640.3" stroke="#666" stroke-width="0.8" />
<text transform="translate(1172.91,643.56) scale(1.0000,1.0000)" font-size="9.800" fill="#505050" font-family="&quot;Liberation Sans&quot;, sans-serif">35</text>
<line x1="1230.1" y1="859.2" x2="1230.1" y2="856.7" stroke="#666" stroke-width="0.8" />
<text transform="translate(1227.33,870.86) scale(1.0000,1.0000)" font-size="9.800" fill="#505050" font-family="&quot;Liberation Sans&quot;, sans-serif">6</text>
<line x1="1306.7" y1="859.2" x2="1306.7" y2="856.7" stroke="#666" stroke-width="0.8" />
<text transform="translate(1301.14,870.86) scale(1.0000,1.0000)" font-size="9.800" fill="#505050" font-family="&quot;Liberation Sans&quot;, sans-serif">12</text>
<line x1="1383.3" y1="859.2" x2="1383.3" y2="856.7" stroke="#666" stroke-width="0.8" />
<text transform="translate(1377.69,870.86) scale(1.0000,1.0000)" font-size="9.800" fill="#505050" font-family="&quot;Liberation Sans&quot;, sans-serif">18</text>
<line x1="1459.9" y1="859.2" x2="1459.9" y2="856.7" stroke="#666" stroke-width="0.8" />
<text transform="translate(1457.16,870.86) scale(1.0000,1.0000)" font-size="9.800" fill="#505050" font-family="&quot;Liberation Sans&quot;, sans-serif">0</text>
<rect x="1186.6" y="856.7" width="6.38" height="2.5" fill="#777" stroke="#505050" stroke-width="0.85"/>
<rect x="1192.98" y="858.26" width="6.38" height="0.94" fill="#fff" stroke="#505050" stroke-width="0.85"/>
<rect x="1199.37" y="854.2" width="6.38" height="5" fill="#fff" stroke="#505050" stroke-width="0.85"/>
<rect x="1205.75" y="856.07" width="6.38" height="3.13" fill="#fff" stroke="#505050" stroke-width="0.85"/>
<rect x="1212.13" y="858.57" width="6.38" height="0.63" fill="#fff" stroke="#505050" stroke-width="0.85"/>
<rect x="1218.52" y="856.07" width="6.38" height="3.13" fill="#fff" stroke="#505050" stroke-width="0.85"/>
<rect x="1224.9" y="858.57" width="6.38" height="0.63" fill="#fff" stroke="#505050" stroke-width="0.85"/>
<rect x="1231.28" y="851.07" width="6.38" height="8.13" fill="#fff" stroke="#505050" stroke-width="0.85"/>
<rect x="1237.67" y="855.45" width="6.38" height="3.75" fill="#fff" stroke="#505050" stroke-width="0.85"/>
<rect x="1244.05" y="854.2" width="6.38" height="5" fill="#fff" stroke="#505050" stroke-width="0.85"/>
<rect x="1250.43" y="856.07" width="6.38" height="3.13" fill="#fff" stroke="#505050" stroke-width="0.85"/>
<rect x="1256.82" y="839.19" width="6.38" height="20.01" fill="#fff" stroke="#505050" stroke-width="0.85"/>
<rect x="1263.2" y="842.31" width="6.38" height="16.89" fill="#fff" stroke="#505050" stroke-width="0.85"/>
<rect x="1269.58" y="843.56" width="6.38" height="15.64" fill="#fff" stroke="#505050" stroke-width="0.85"/>
<rect x="1275.97" y="818.55" width="6.38" height="40.65" fill="#fff" stroke="#505050" stroke-width="0.85"/>
<rect x="1282.35" y="806.66" width="6.38" height="52.54" fill="#fff" stroke="#505050" stroke-width="0.85"/>
<rect x="1288.73" y="820.42" width="6.38" height="38.78" fill="#fff" stroke="#505050" stroke-width="0.85"/>
<rect x="1295.12" y="789.78" width="6.38" height="69.42" fill="#fff" stroke="#505050" stroke-width="0.85"/>
<rect x="1301.5" y="794.78" width="6.38" height="64.42" fill="#fff" stroke="#505050" stroke-width="0.85"/>
<rect x="1307.88" y="806.04" width="6.38" height="53.16" fill="#fff" stroke="#505050" stroke-width="0.85"/>
<rect x="1314.27" y="777.89" width="6.38" height="81.31" fill="#fff" stroke="#505050" stroke-width="0.85"/>
<rect x="1320.65" y="764.76" width="6.38" height="94.44" fill="#fff" stroke="#505050" stroke-width="0.85"/>
<rect x="1327.03" y="777.27" width="6.38" height="81.93" fill="#fff" stroke="#505050" stroke-width="0.85"/>
<rect x="1333.42" y="782.9" width="6.38" height="76.3" fill="#fff" stroke="#505050" stroke-width="0.85"/>
<rect x="1339.8" y="744.12" width="6.38" height="115.08" fill="#fff" stroke="#505050" stroke-width="0.85"/>
<rect x="1346.18" y="774.77" width="6.38" height="84.43" fill="#fff" stroke="#505050" stroke-width="0.85"/>
<rect x="1352.57" y="754.75" width="6.38" height="104.45" fill="#fff" stroke="#505050" stroke-width="0.85"/>
<rect x="1358.95" y="737.24" width="6.38" height="121.96" fill="#fff" stroke="#505050" stroke-width="0.85"/>
<rect x="1365.33" y="727.86" width="6.38" height="131.34" fill="#fff" stroke="#505050" stroke-width="0.85"/>
<rect x="1371.72" y="710.35" width="6.38" height="148.85" fill="#fff" stroke="#505050" stroke-width="0.85"/>
<rect x="1378.1" y="717.85" width="6.38" height="141.35" fill="#fff" stroke="#505050" stroke-width="0.85"/>
<rect x="1384.48" y="721.61" width="6.38" height="137.59" fill="#fff" stroke="#505050" stroke-width="0.85"/>
<rect x="1390.87" y="710.97" width="6.38" height="148.23" fill="#fff" stroke="#505050" stroke-width="0.85"/>
<rect x="1397.25" y="705.97" width="6.38" height="153.23" fill="#fff" stroke="#505050" stroke-width="0.85"/>
<rect x="1403.63" y="721.61" width="6.38" height="137.59" fill="#fff" stroke="#505050" stroke-width="0.85"/>
<rect x="1410.02" y="713.48" width="6.38" height="145.72" fill="#fff" stroke="#505050" stroke-width="0.85"/>
<rect x="1416.4" y="751" width="6.38" height="108.2" fill="#fff" stroke="#505050" stroke-width="0.85"/>
<rect x="1422.78" y="741.62" width="6.38" height="117.58" fill="#fff" stroke="#505050" stroke-width="0.85"/>
<rect x="1429.17" y="690.96" width="6.38" height="168.24" fill="#fff" stroke="#505050" stroke-width="0.85"/>
<rect x="1435.55" y="671.57" width="6.38" height="187.63" fill="#fff" stroke="#505050" stroke-width="0.85"/>
<rect x="1441.93" y="662.82" width="6.38" height="196.38" fill="#fff" stroke="#505050" stroke-width="0.85"/>
<rect x="1448.32" y="665.94" width="6.38" height="193.26" fill="#fff" stroke="#505050" stroke-width="0.85"/>
<rect x="1454.7" y="700.97" width="6.38" height="158.23" fill="#fff" stroke="#505050" stroke-width="0.85"/>
<rect x="1461.08" y="741.62" width="6.38" height="117.58" fill="#fff" stroke="#505050" stroke-width="0.85"/>
<rect x="1467.47" y="792.28" width="6.38" height="66.92" fill="#777" stroke="#505050" stroke-width="0.85"/>
<rect x="1473.85" y="839.81" width="6.38" height="19.39" fill="#777" stroke="#505050" stroke-width="0.85"/>
<rect x="1480.23" y="849.19" width="6.38" height="10.01" fill="#777" stroke="#505050" stroke-width="0.85"/>
<rect x="1486.62" y="858.8" width="6.38" height="0.4" fill="#777" stroke="#505050" stroke-width="0.85"/>
<circle cx="1189.79" cy="856.41" r="1.45" fill="#2a2af0"/>
<circle cx="1196.17" cy="858.04" r="1.45" fill="#2a2af0"/>
<circle cx="1202.56" cy="851.05" r="1.45" fill="#2a2af0"/>
<circle cx="1208.94" cy="856.41" r="1.45" fill="#2a2af0"/>
<circle cx="1215.32" cy="858.5" r="1.45" fill="#2a2af0"/>
<circle cx="1221.71" cy="855.01" r="1.45" fill="#2a2af0"/>
<circle cx="1228.09" cy="859.67" r="1.45" fill="#2a2af0"/>
<circle cx="1234.47" cy="846.86" r="1.45" fill="#2a2af0"/>
<circle cx="1240.86" cy="855.24" r="1.45" fill="#2a2af0"/>
<circle cx="1247.24" cy="851.75" r="1.45" fill="#2a2af0"/>
<circle cx="1253.62" cy="854.08" r="1.45" fill="#2a2af0"/>
<circle cx="1260.01" cy="833.59" r="1.45" fill="#2a2af0"/>
<circle cx="1266.39" cy="835.45" r="1.45" fill="#2a2af0"/>
<circle cx="1272.77" cy="839.87" r="1.45" fill="#2a2af0"/>
<circle cx="1279.16" cy="813.33" r="1.45" fill="#2a2af0"/>
<circle cx="1285.54" cy="797.5" r="1.45" fill="#2a2af0"/>
<circle cx="1291.92" cy="812.16" r="1.45" fill="#2a2af0"/>
<circle cx="1298.31" cy="777.7" r="1.45" fill="#2a2af0"/>
<circle cx="1304.69" cy="787.48" r="1.45" fill="#2a2af0"/>
<circle cx="1311.07" cy="795.87" r="1.45" fill="#2a2af0"/>
<circle cx="1317.46" cy="772.35" r="1.45" fill="#2a2af0"/>
<circle cx="1323.84" cy="755.12" r="1.45" fill="#2a2af0"/>
<circle cx="1330.22" cy="765.6" r="1.45" fill="#2a2af0"/>
<circle cx="1336.61" cy="777" r="1.45" fill="#2a2af0"/>
<circle cx="1342.99" cy="739.75" r="1.45" fill="#2a2af0"/>
<circle cx="1349.37" cy="764.9" r="1.45" fill="#2a2af0"/>
<circle cx="1355.76" cy="749.76" r="1.45" fill="#2a2af0"/>
<circle cx="1362.14" cy="734.16" r="1.45" fill="#2a2af0"/>
<circle cx="1368.52" cy="716.46" r="1.45" fill="#2a2af0"/>
<circle cx="1374.91" cy="699" r="1.45" fill="#2a2af0"/>
<circle cx="1381.29" cy="707.85" r="1.45" fill="#2a2af0"/>
<circle cx="1387.67" cy="715.53" r="1.45" fill="#2a2af0"/>
<circle cx="1394.06" cy="705.05" r="1.45" fill="#2a2af0"/>
<circle cx="1400.44" cy="701.56" r="1.45" fill="#2a2af0"/>
<circle cx="1406.82" cy="717.86" r="1.45" fill="#2a2af0"/>
<circle cx="1413.21" cy="707.85" r="1.45" fill="#2a2af0"/>
<circle cx="1419.59" cy="736.49" r="1.45" fill="#2a2af0"/>
<circle cx="1425.97" cy="737.42" r="1.45" fill="#2a2af0"/>
<circle cx="1432.36" cy="688.06" r="1.45" fill="#2a2af0"/>
<circle cx="1438.74" cy="667.1" r="1.45" fill="#2a2af0"/>
<circle cx="1445.12" cy="655.46" r="1.45" fill="#2a2af0"/>
<circle cx="1451.51" cy="661.75" r="1.45" fill="#2a2af0"/>
<circle cx="1457.89" cy="681.07" r="1.45" fill="#2a2af0"/>
<circle cx="1464.27" cy="731.83" r="1.45" fill="#2a2af0"/>
<circle cx="1470.66" cy="782.83" r="1.45" fill="#2a2af0"/>
<circle cx="1477.04" cy="833.59" r="1.45" fill="#2a2af0"/>
<circle cx="1483.42" cy="844.53" r="1.45" fill="#2a2af0"/>
<circle cx="1489.81" cy="857.57" r="1.45" fill="#2a2af0"/>
<text transform="translate(1191.17,666.47) scale(0.9932,1.0000)" font-size="9.200" fill="#333" font-family="&quot;Liberation Sans&quot;, sans-serif">Mean on=13.2 off=3.1 all=12.1</text>
<text transform="translate(1166.86,776.11) rotate(-90) scale(1.0632,1)" font-size="8.770" fill="#444" font-family="&quot;Liberation Sans&quot;, sans-serif">mean activity</text>
<text transform="translate(1325.23,882.76) scale(1.0000,1.0000)" font-size="9.600" fill="#404040" font-family="&quot;Liberation Sans&quot;, sans-serif">hours</text>
<polyline points="1190.7,655.5 1226.8,640.3 1264.1,626.4 1299,615.9 1340.9,604.7 1380.5,617 1421.2,629.8 1435.2,633.3 1459.7,640.3 1492.3,654.3" fill="none" stroke="#4472C4" stroke-width="5" stroke-linejoin="round" stroke-linecap="round" />
<defs><linearGradient id="g1186L" x1="0" x2="1" y1="0" y2="0"><stop offset="0" stop-color="#6e6e6e"/><stop offset="1" stop-color="#ffc000"/></linearGradient><linearGradient id="g1186R" x1="0" x2="1" y1="0" y2="0"><stop offset="0" stop-color="#ffc000"/><stop offset="1" stop-color="#6e6e6e"/></linearGradient></defs>
<polygon points="1195.4,883.6 1270.4,870.8 1270.4,896.4" fill="url(#g1186L)" />
<polygon points="1417.7,870.8 1417.7,896.4 1465.5,883.6" fill="url(#g1186R)" />
<line x1="411.2" y1="1049.4" x2="411.2" y2="1268.9" stroke="#666" stroke-width="1" />
<line x1="411.2" y1="1268.9" x2="717.6" y2="1268.9" stroke="#666" stroke-width="1" />
<line x1="411.2" y1="1268.9" x2="413.7" y2="1268.9" stroke="#666" stroke-width="0.8" />
<text transform="translate(402.9,1272.16) scale(1.0000,1.0000)" font-size="9.800" fill="#505050" font-family="&quot;Liberation Sans&quot;, sans-serif">0</text>
<line x1="411.2" y1="1244.57" x2="413.7" y2="1244.57" stroke="#666" stroke-width="0.8" />
<text transform="translate(403.05,1247.83) scale(1.0000,1.0000)" font-size="9.800" fill="#505050" font-family="&quot;Liberation Sans&quot;, sans-serif">2</text>
<line x1="411.2" y1="1220.23" x2="413.7" y2="1220.23" stroke="#666" stroke-width="0.8" />
<text transform="translate(402.86,1223.4) scale(1.0000,1.0000)" font-size="9.800" fill="#505050" font-family="&quot;Liberation Sans&quot;, sans-serif">4</text>
<line x1="411.2" y1="1195.9" x2="413.7" y2="1195.9" stroke="#666" stroke-width="0.8" />
<text transform="translate(402.95,1199.16) scale(1.0000,1.0000)" font-size="9.800" fill="#505050" font-family="&quot;Liberation Sans&quot;, sans-serif">6</text>
<line x1="411.2" y1="1171.57" x2="413.7" y2="1171.57" stroke="#666" stroke-width="0.8" />
<text transform="translate(402.95,1174.83) scale(1.0000,1.0000)" font-size="9.800" fill="#505050" font-family="&quot;Liberation Sans&quot;, sans-serif">8</text>
<line x1="411.2" y1="1147.23" x2="413.7" y2="1147.23" stroke="#666" stroke-width="0.8" />
<text transform="translate(397.46,1150.49) scale(1.0000,1.0000)" font-size="9.800" fill="#505050" font-family="&quot;Liberation Sans&quot;, sans-serif">10</text>
<line x1="411.2" y1="1122.9" x2="413.7" y2="1122.9" stroke="#666" stroke-width="0.8" />
<text transform="translate(397.61,1126.16) scale(1.0000,1.0000)" font-size="9.800" fill="#505050" font-family="&quot;Liberation Sans&quot;, sans-serif">12</text>
<line x1="411.2" y1="1098.57" x2="413.7" y2="1098.57" stroke="#666" stroke-width="0.8" />
<text transform="translate(397.42,1101.73) scale(1.0000,1.0000)" font-size="9.800" fill="#505050" font-family="&quot;Liberation Sans&quot;, sans-serif">14</text>
<line x1="411.2" y1="1074.23" x2="413.7" y2="1074.23" stroke="#666" stroke-width="0.8" />
<text transform="translate(397.51,1077.49) scale(1.0000,1.0000)" font-size="9.800" fill="#505050" font-family="&quot;Liberation Sans&quot;, sans-serif">16</text>
<line x1="411.2" y1="1049.9" x2="413.7" y2="1049.9" stroke="#666" stroke-width="0.8" />
<text transform="translate(397.51,1053.16) scale(1.0000,1.0000)" font-size="9.800" fill="#505050" font-family="&quot;Liberation Sans&quot;, sans-serif">18</text>
<line x1="454.7" y1="1268.9" x2="454.7" y2="1266.4" stroke="#666" stroke-width="0.8" />
<text transform="translate(451.93,1280.56) scale(1.0000,1.0000)" font-size="9.800" fill="#505050" font-family="&quot;Liberation Sans&quot;, sans-serif">6</text>
<line x1="531.3" y1="1268.9" x2="531.3" y2="1266.4" stroke="#666" stroke-width="0.8" />
<text transform="translate(525.74,1280.56) scale(1.0000,1.0000)" font-size="9.800" fill="#505050" font-family="&quot;Liberation Sans&quot;, sans-serif">12</text>
<line x1="607.9" y1="1268.9" x2="607.9" y2="1266.4" stroke="#666" stroke-width="0.8" />
<text transform="translate(602.29,1280.56) scale(1.0000,1.0000)" font-size="9.800" fill="#505050" font-family="&quot;Liberation Sans&quot;, sans-serif">18</text>
<line x1="684.5" y1="1268.9" x2="684.5" y2="1266.4" stroke="#666" stroke-width="0.8" />
<text transform="translate(681.76,1280.56) scale(1.0000,1.0000)" font-size="9.800" fill="#505050" font-family="&quot;Liberation Sans&quot;, sans-serif">0</text>
<rect x="411.2" y="1259.53" width="6.38" height="9.37" fill="#777" stroke="#505050" stroke-width="0.85"/>
<rect x="417.58" y="1261.84" width="6.38" height="7.06" fill="#fff" stroke="#505050" stroke-width="0.85"/>
<rect x="423.97" y="1250.89" width="6.38" height="18.01" fill="#fff" stroke="#505050" stroke-width="0.85"/>
<rect x="430.35" y="1252.6" width="6.38" height="16.3" fill="#fff" stroke="#505050" stroke-width="0.85"/>
<rect x="436.73" y="1236.66" width="6.38" height="32.24" fill="#fff" stroke="#505050" stroke-width="0.85"/>
<rect x="443.12" y="1231.18" width="6.38" height="37.72" fill="#fff" stroke="#505050" stroke-width="0.85"/>
<rect x="449.5" y="1243.96" width="6.38" height="24.94" fill="#fff" stroke="#505050" stroke-width="0.85"/>
<rect x="455.88" y="1240.43" width="6.38" height="28.47" fill="#fff" stroke="#505050" stroke-width="0.85"/>
<rect x="462.27" y="1246.76" width="6.38" height="22.14" fill="#fff" stroke="#505050" stroke-width="0.85"/>
<rect x="468.65" y="1240.92" width="6.38" height="27.98" fill="#fff" stroke="#505050" stroke-width="0.85"/>
<rect x="475.03" y="1236.66" width="6.38" height="32.24" fill="#fff" stroke="#505050" stroke-width="0.85"/>
<rect x="481.42" y="1218.17" width="6.38" height="50.73" fill="#fff" stroke="#505050" stroke-width="0.85"/>
<rect x="487.8" y="1243.96" width="6.38" height="24.94" fill="#fff" stroke="#505050" stroke-width="0.85"/>
<rect x="494.18" y="1235.56" width="6.38" height="33.34" fill="#fff" stroke="#505050" stroke-width="0.85"/>
<rect x="500.57" y="1244.81" width="6.38" height="24.09" fill="#fff" stroke="#505050" stroke-width="0.85"/>
<rect x="506.95" y="1236.17" width="6.38" height="32.73" fill="#fff" stroke="#505050" stroke-width="0.85"/>
<rect x="513.33" y="1225.1" width="6.38" height="43.8" fill="#fff" stroke="#505050" stroke-width="0.85"/>
<rect x="519.72" y="1232.4" width="6.38" height="36.5" fill="#fff" stroke="#505050" stroke-width="0.85"/>
<rect x="526.1" y="1229.72" width="6.38" height="39.18" fill="#fff" stroke="#505050" stroke-width="0.85"/>
<rect x="532.48" y="1233.86" width="6.38" height="35.04" fill="#fff" stroke="#505050" stroke-width="0.85"/>
<rect x="538.87" y="1198.82" width="6.38" height="70.08" fill="#fff" stroke="#505050" stroke-width="0.85"/>
<rect x="545.25" y="1214.03" width="6.38" height="54.87" fill="#fff" stroke="#505050" stroke-width="0.85"/>
<rect x="551.63" y="1204.17" width="6.38" height="64.73" fill="#fff" stroke="#505050" stroke-width="0.85"/>
<rect x="558.02" y="1192.49" width="6.38" height="76.41" fill="#fff" stroke="#505050" stroke-width="0.85"/>
<rect x="564.4" y="1184.34" width="6.38" height="84.56" fill="#fff" stroke="#505050" stroke-width="0.85"/>
<rect x="570.78" y="1182.52" width="6.38" height="86.38" fill="#fff" stroke="#505050" stroke-width="0.85"/>
<rect x="577.17" y="1096.13" width="6.38" height="172.77" fill="#fff" stroke="#505050" stroke-width="0.85"/>
<rect x="583.55" y="1107.08" width="6.38" height="161.82" fill="#fff" stroke="#505050" stroke-width="0.85"/>
<rect x="589.93" y="1071.07" width="6.38" height="197.83" fill="#fff" stroke="#505050" stroke-width="0.85"/>
<rect x="596.32" y="1114.75" width="6.38" height="154.15" fill="#fff" stroke="#505050" stroke-width="0.85"/>
<rect x="602.7" y="1137.01" width="6.38" height="131.89" fill="#fff" stroke="#505050" stroke-width="0.85"/>
<rect x="609.08" y="1145.17" width="6.38" height="123.73" fill="#fff" stroke="#505050" stroke-width="0.85"/>
<rect x="615.47" y="1164.51" width="6.38" height="104.39" fill="#fff" stroke="#505050" stroke-width="0.85"/>
<rect x="621.85" y="1193.71" width="6.38" height="75.19" fill="#fff" stroke="#505050" stroke-width="0.85"/>
<rect x="628.23" y="1214.03" width="6.38" height="54.87" fill="#fff" stroke="#505050" stroke-width="0.85"/>
<rect x="634.62" y="1237.88" width="6.38" height="31.02" fill="#fff" stroke="#505050" stroke-width="0.85"/>
<rect x="641" y="1232.04" width="6.38" height="36.86" fill="#fff" stroke="#505050" stroke-width="0.85"/>
<rect x="647.38" y="1229.97" width="6.38" height="38.93" fill="#fff" stroke="#505050" stroke-width="0.85"/>
<rect x="653.77" y="1212.93" width="6.38" height="55.97" fill="#fff" stroke="#505050" stroke-width="0.85"/>
<rect x="660.15" y="1225.71" width="6.38" height="43.19" fill="#fff" stroke="#505050" stroke-width="0.85"/>
<rect x="666.53" y="1238.48" width="6.38" height="30.42" fill="#fff" stroke="#505050" stroke-width="0.85"/>
<rect x="672.92" y="1241.53" width="6.38" height="27.38" fill="#fff" stroke="#505050" stroke-width="0.85"/>
<rect x="679.3" y="1252.6" width="6.38" height="16.3" fill="#fff" stroke="#505050" stroke-width="0.85"/>
<rect x="685.68" y="1266.59" width="6.38" height="2.31" fill="#fff" stroke="#505050" stroke-width="0.85"/>
<rect x="692.07" y="1256" width="6.38" height="12.9" fill="#777" stroke="#505050" stroke-width="0.85"/>
<rect x="698.45" y="1265.37" width="6.38" height="3.53" fill="#777" stroke="#505050" stroke-width="0.85"/>
<rect x="704.83" y="1251.87" width="6.38" height="17.03" fill="#777" stroke="#505050" stroke-width="0.85"/>
<rect x="711.22" y="1252.6" width="6.38" height="16.3" fill="#777" stroke="#505050" stroke-width="0.85"/>
<circle cx="414.39" cy="1253.02" r="1.45" fill="#2a2af0"/>
<circle cx="420.77" cy="1260.03" r="1.45" fill="#2a2af0"/>
<circle cx="427.16" cy="1241.58" r="1.45" fill="#2a2af0"/>
<circle cx="433.54" cy="1245.55" r="1.45" fill="#2a2af0"/>
<circle cx="439.93" cy="1231.07" r="1.45" fill="#2a2af0"/>
<circle cx="446.31" cy="1219.39" r="1.45" fill="#2a2af0"/>
<circle cx="452.69" cy="1236.21" r="1.45" fill="#2a2af0"/>
<circle cx="459.07" cy="1235.51" r="1.45" fill="#2a2af0"/>
<circle cx="465.46" cy="1239.71" r="1.45" fill="#2a2af0"/>
<circle cx="471.84" cy="1236.91" r="1.45" fill="#2a2af0"/>
<circle cx="478.22" cy="1233.4" r="1.45" fill="#2a2af0"/>
<circle cx="484.61" cy="1200.48" r="1.45" fill="#2a2af0"/>
<circle cx="490.99" cy="1237.61" r="1.45" fill="#2a2af0"/>
<circle cx="497.37" cy="1226.87" r="1.45" fill="#2a2af0"/>
<circle cx="503.76" cy="1240.41" r="1.45" fill="#2a2af0"/>
<circle cx="510.14" cy="1232" r="1.45" fill="#2a2af0"/>
<circle cx="516.52" cy="1215.66" r="1.45" fill="#2a2af0"/>
<circle cx="522.91" cy="1225.23" r="1.45" fill="#2a2af0"/>
<circle cx="529.29" cy="1222.66" r="1.45" fill="#2a2af0"/>
<circle cx="535.68" cy="1229.67" r="1.45" fill="#2a2af0"/>
<circle cx="542.06" cy="1194.64" r="1.45" fill="#2a2af0"/>
<circle cx="548.44" cy="1205.15" r="1.45" fill="#2a2af0"/>
<circle cx="554.83" cy="1195.34" r="1.45" fill="#2a2af0"/>
<circle cx="561.21" cy="1182.03" r="1.45" fill="#2a2af0"/>
<circle cx="567.59" cy="1172.69" r="1.45" fill="#2a2af0"/>
<circle cx="573.98" cy="1170.12" r="1.45" fill="#2a2af0"/>
<circle cx="580.36" cy="1074.61" r="1.45" fill="#2a2af0"/>
<circle cx="586.74" cy="1086.75" r="1.45" fill="#2a2af0"/>
<circle cx="593.12" cy="1067.6" r="1.45" fill="#2a2af0"/>
<circle cx="599.51" cy="1111.97" r="1.45" fill="#2a2af0"/>
<circle cx="605.89" cy="1129.95" r="1.45" fill="#2a2af0"/>
<circle cx="612.27" cy="1140.46" r="1.45" fill="#2a2af0"/>
<circle cx="618.66" cy="1159.61" r="1.45" fill="#2a2af0"/>
<circle cx="625.04" cy="1185.3" r="1.45" fill="#2a2af0"/>
<circle cx="631.43" cy="1211.69" r="1.45" fill="#2a2af0"/>
<circle cx="637.81" cy="1234.57" r="1.45" fill="#2a2af0"/>
<circle cx="644.19" cy="1225" r="1.45" fill="#2a2af0"/>
<circle cx="650.58" cy="1219.86" r="1.45" fill="#2a2af0"/>
<circle cx="656.96" cy="1193.7" r="1.45" fill="#2a2af0"/>
<circle cx="663.34" cy="1219.39" r="1.45" fill="#2a2af0"/>
<circle cx="669.73" cy="1232" r="1.45" fill="#2a2af0"/>
<circle cx="676.11" cy="1232.7" r="1.45" fill="#2a2af0"/>
<circle cx="682.49" cy="1242.51" r="1.45" fill="#2a2af0"/>
<circle cx="688.88" cy="1265.4" r="1.45" fill="#2a2af0"/>
<circle cx="695.26" cy="1246.25" r="1.45" fill="#2a2af0"/>
<circle cx="701.64" cy="1261.43" r="1.45" fill="#2a2af0"/>
<circle cx="708.02" cy="1237.37" r="1.45" fill="#2a2af0"/>
<circle cx="714.41" cy="1245.55" r="1.45" fill="#2a2af0"/>
<text transform="translate(416.26,1074.47) scale(1.0073,1.0000)" font-size="9.200" fill="#333" font-family="&quot;Liberation Sans&quot;, sans-serif">Mean on=4.7 off=1.0 all=4.3</text>
<text transform="translate(391.86,1186.51) rotate(-90) scale(1.0632,1)" font-size="8.770" fill="#444" font-family="&quot;Liberation Sans&quot;, sans-serif">mean activity</text>
<text transform="translate(550.83,1292.56) scale(1.0000,1.0000)" font-size="9.600" fill="#404040" font-family="&quot;Liberation Sans&quot;, sans-serif">hours</text>
<polyline points="413.5,1058 456.7,1041.9 489.4,1029.5 524.4,1019.7 560.6,1010.2 599.1,1021.4 635.3,1031.9 648.2,1036.5 678.5,1044.7 704.2,1056.4" fill="none" stroke="#4472C4" stroke-width="5" stroke-linejoin="round" stroke-linecap="round" />
<defs><linearGradient id="g411L" x1="0" x2="1" y1="0" y2="0"><stop offset="0" stop-color="#6e6e6e"/><stop offset="1" stop-color="#ffc000"/></linearGradient><linearGradient id="g411R" x1="0" x2="1" y1="0" y2="0"><stop offset="0" stop-color="#ffc000"/><stop offset="1" stop-color="#6e6e6e"/></linearGradient></defs>
<polygon points="418.2,1298.7 492.4,1286.4 492.4,1311.4" fill="url(#g411L)" />
<polygon points="640.5,1286.4 640.5,1311.4 689,1298.7" fill="url(#g411R)" />
<line x1="1191.2" y1="1052.6" x2="1191.2" y2="1271.5" stroke="#666" stroke-width="1" />
<line x1="1191.2" y1="1271.5" x2="1497.6" y2="1271.5" stroke="#666" stroke-width="1" />
<line x1="1191.2" y1="1271.5" x2="1193.7" y2="1271.5" stroke="#666" stroke-width="0.8" />
<text transform="translate(1182.9,1274.76) scale(1.0000,1.0000)" font-size="9.800" fill="#505050" font-family="&quot;Liberation Sans&quot;, sans-serif">0</text>
<line x1="1191.2" y1="1235.1" x2="1193.7" y2="1235.1" stroke="#666" stroke-width="0.8" />
<text transform="translate(1182.95,1238.26) scale(1.0000,1.0000)" font-size="9.800" fill="#505050" font-family="&quot;Liberation Sans&quot;, sans-serif">5</text>
<line x1="1191.2" y1="1198.7" x2="1193.7" y2="1198.7" stroke="#666" stroke-width="0.8" />
<text transform="translate(1177.46,1201.96) scale(1.0000,1.0000)" font-size="9.800" fill="#505050" font-family="&quot;Liberation Sans&quot;, sans-serif">10</text>
<line x1="1191.2" y1="1162.3" x2="1193.7" y2="1162.3" stroke="#666" stroke-width="0.8" />
<text transform="translate(1177.51,1165.46) scale(1.0000,1.0000)" font-size="9.800" fill="#505050" font-family="&quot;Liberation Sans&quot;, sans-serif">15</text>
<line x1="1191.2" y1="1125.9" x2="1193.7" y2="1125.9" stroke="#666" stroke-width="0.8" />
<text transform="translate(1177.46,1129.16) scale(1.0000,1.0000)" font-size="9.800" fill="#505050" font-family="&quot;Liberation Sans&quot;, sans-serif">20</text>
<line x1="1191.2" y1="1089.5" x2="1193.7" y2="1089.5" stroke="#666" stroke-width="0.8" />
<text transform="translate(1177.51,1092.76) scale(1.0000,1.0000)" font-size="9.800" fill="#505050" font-family="&quot;Liberation Sans&quot;, sans-serif">25</text>
<line x1="1191.2" y1="1053.1" x2="1193.7" y2="1053.1" stroke="#666" stroke-width="0.8" />
<text transform="translate(1177.46,1056.36) scale(1.0000,1.0000)" font-size="9.800" fill="#505050" font-family="&quot;Liberation Sans&quot;, sans-serif">30</text>
<line x1="1234.7" y1="1271.5" x2="1234.7" y2="1269" stroke="#666" stroke-width="0.8" />
<text transform="translate(1231.93,1283.16) scale(1.0000,1.0000)" font-size="9.800" fill="#505050" font-family="&quot;Liberation Sans&quot;, sans-serif">6</text>
<line x1="1311.3" y1="1271.5" x2="1311.3" y2="1269" stroke="#666" stroke-width="0.8" />
<text transform="translate(1305.74,1283.16) scale(1.0000,1.0000)" font-size="9.800" fill="#505050" font-family="&quot;Liberation Sans&quot;, sans-serif">12</text>
<line x1="1387.9" y1="1271.5" x2="1387.9" y2="1269" stroke="#666" stroke-width="0.8" />
<text transform="translate(1382.29,1283.16) scale(1.0000,1.0000)" font-size="9.800" fill="#505050" font-family="&quot;Liberation Sans&quot;, sans-serif">18</text>
<line x1="1464.5" y1="1271.5" x2="1464.5" y2="1269" stroke="#666" stroke-width="0.8" />
<text transform="translate(1461.76,1283.16) scale(1.0000,1.0000)" font-size="9.800" fill="#505050" font-family="&quot;Liberation Sans&quot;, sans-serif">0</text>
<rect x="1191.2" y="1269.32" width="6.38" height="2.18" fill="#777" stroke="#505050" stroke-width="0.85"/>
<rect x="1197.58" y="1264.51" width="6.38" height="6.99" fill="#fff" stroke="#505050" stroke-width="0.85"/>
<rect x="1203.97" y="1263.35" width="6.38" height="8.15" fill="#fff" stroke="#505050" stroke-width="0.85"/>
<rect x="1210.35" y="1260.36" width="6.38" height="11.14" fill="#fff" stroke="#505050" stroke-width="0.85"/>
<rect x="1216.73" y="1266.11" width="6.38" height="5.39" fill="#fff" stroke="#505050" stroke-width="0.85"/>
<rect x="1223.12" y="1271.1" width="6.38" height="0.4" fill="#fff" stroke="#505050" stroke-width="0.85"/>
<rect x="1229.5" y="1268.73" width="6.38" height="2.77" fill="#fff" stroke="#505050" stroke-width="0.85"/>
<rect x="1235.88" y="1255.92" width="6.38" height="15.58" fill="#fff" stroke="#505050" stroke-width="0.85"/>
<rect x="1242.27" y="1263.35" width="6.38" height="8.15" fill="#fff" stroke="#505050" stroke-width="0.85"/>
<rect x="1248.65" y="1251.26" width="6.38" height="20.24" fill="#fff" stroke="#505050" stroke-width="0.85"/>
<rect x="1255.03" y="1202.12" width="6.38" height="69.38" fill="#fff" stroke="#505050" stroke-width="0.85"/>
<rect x="1261.42" y="1242.38" width="6.38" height="29.12" fill="#fff" stroke="#505050" stroke-width="0.85"/>
<rect x="1267.8" y="1239.4" width="6.38" height="32.1" fill="#fff" stroke="#505050" stroke-width="0.85"/>
<rect x="1274.18" y="1232.62" width="6.38" height="38.88" fill="#fff" stroke="#505050" stroke-width="0.85"/>
<rect x="1280.57" y="1175.55" width="6.38" height="95.95" fill="#fff" stroke="#505050" stroke-width="0.85"/>
<rect x="1286.95" y="1167.4" width="6.38" height="104.1" fill="#fff" stroke="#505050" stroke-width="0.85"/>
<rect x="1293.33" y="1181.96" width="6.38" height="89.54" fill="#fff" stroke="#505050" stroke-width="0.85"/>
<rect x="1299.72" y="1204.01" width="6.38" height="67.49" fill="#fff" stroke="#505050" stroke-width="0.85"/>
<rect x="1306.1" y="1216.9" width="6.38" height="54.6" fill="#fff" stroke="#505050" stroke-width="0.85"/>
<rect x="1312.48" y="1206.34" width="6.38" height="65.16" fill="#fff" stroke="#505050" stroke-width="0.85"/>
<rect x="1318.87" y="1166.3" width="6.38" height="105.2" fill="#fff" stroke="#505050" stroke-width="0.85"/>
<rect x="1325.25" y="1129.54" width="6.38" height="141.96" fill="#fff" stroke="#505050" stroke-width="0.85"/>
<rect x="1331.63" y="1185.81" width="6.38" height="85.69" fill="#fff" stroke="#505050" stroke-width="0.85"/>
<rect x="1338.02" y="1169.07" width="6.38" height="102.43" fill="#fff" stroke="#505050" stroke-width="0.85"/>
<rect x="1344.4" y="1169.07" width="6.38" height="102.43" fill="#fff" stroke="#505050" stroke-width="0.85"/>
<rect x="1350.78" y="1181.96" width="6.38" height="89.54" fill="#fff" stroke="#505050" stroke-width="0.85"/>
<rect x="1357.17" y="1160.48" width="6.38" height="111.02" fill="#fff" stroke="#505050" stroke-width="0.85"/>
<rect x="1363.55" y="1151.16" width="6.38" height="120.34" fill="#fff" stroke="#505050" stroke-width="0.85"/>
<rect x="1369.93" y="1121.53" width="6.38" height="149.97" fill="#fff" stroke="#505050" stroke-width="0.85"/>
<rect x="1376.32" y="1120.08" width="6.38" height="151.42" fill="#fff" stroke="#505050" stroke-width="0.85"/>
<rect x="1382.7" y="1125.54" width="6.38" height="145.96" fill="#fff" stroke="#505050" stroke-width="0.85"/>
<rect x="1389.08" y="1149.92" width="6.38" height="121.58" fill="#fff" stroke="#505050" stroke-width="0.85"/>
<rect x="1395.47" y="1131.72" width="6.38" height="139.78" fill="#fff" stroke="#505050" stroke-width="0.85"/>
<rect x="1401.85" y="1168.34" width="6.38" height="103.16" fill="#fff" stroke="#505050" stroke-width="0.85"/>
<rect x="1408.23" y="1180.21" width="6.38" height="91.29" fill="#fff" stroke="#505050" stroke-width="0.85"/>
<rect x="1414.62" y="1158.15" width="6.38" height="113.35" fill="#fff" stroke="#505050" stroke-width="0.85"/>
<rect x="1421" y="1184.14" width="6.38" height="87.36" fill="#fff" stroke="#505050" stroke-width="0.85"/>
<rect x="1427.38" y="1158.15" width="6.38" height="113.35" fill="#fff" stroke="#505050" stroke-width="0.85"/>
<rect x="1433.77" y="1131.72" width="6.38" height="139.78" fill="#fff" stroke="#505050" stroke-width="0.85"/>
<rect x="1440.15" y="1120.8" width="6.38" height="150.7" fill="#fff" stroke="#505050" stroke-width="0.85"/>
<rect x="1446.53" y="1081.78" width="6.38" height="189.72" fill="#fff" stroke="#505050" stroke-width="0.85"/>
<rect x="1452.92" y="1089.94" width="6.38" height="181.56" fill="#fff" stroke="#505050" stroke-width="0.85"/>
<rect x="1459.3" y="1105.73" width="6.38" height="165.77" fill="#fff" stroke="#505050" stroke-width="0.85"/>
<rect x="1465.68" y="1152.33" width="6.38" height="119.17" fill="#fff" stroke="#505050" stroke-width="0.85"/>
<rect x="1472.07" y="1219.08" width="6.38" height="52.42" fill="#777" stroke="#505050" stroke-width="0.85"/>
<rect x="1478.45" y="1259.12" width="6.38" height="12.38" fill="#777" stroke="#505050" stroke-width="0.85"/>
<rect x="1484.83" y="1265.24" width="6.38" height="6.26" fill="#777" stroke="#505050" stroke-width="0.85"/>
<rect x="1491.22" y="1270.34" width="6.38" height="1.16" fill="#777" stroke="#505050" stroke-width="0.85"/>
<circle cx="1194.39" cy="1269.87" r="1.45" fill="#2a2af0"/>
<circle cx="1200.78" cy="1258.7" r="1.45" fill="#2a2af0"/>
<circle cx="1207.16" cy="1256.37" r="1.45" fill="#2a2af0"/>
<circle cx="1213.54" cy="1251.71" r="1.45" fill="#2a2af0"/>
<circle cx="1219.92" cy="1263.82" r="1.45" fill="#2a2af0"/>
<circle cx="1226.31" cy="1271.97" r="1.45" fill="#2a2af0"/>
<circle cx="1232.69" cy="1267.31" r="1.45" fill="#2a2af0"/>
<circle cx="1239.08" cy="1250.08" r="1.45" fill="#2a2af0"/>
<circle cx="1245.46" cy="1259.39" r="1.45" fill="#2a2af0"/>
<circle cx="1251.84" cy="1248.68" r="1.45" fill="#2a2af0"/>
<circle cx="1258.22" cy="1170.93" r="1.45" fill="#2a2af0"/>
<circle cx="1264.61" cy="1238.44" r="1.45" fill="#2a2af0"/>
<circle cx="1270.99" cy="1235.41" r="1.45" fill="#2a2af0"/>
<circle cx="1277.38" cy="1220.28" r="1.45" fill="#2a2af0"/>
<circle cx="1283.76" cy="1161.38" r="1.45" fill="#2a2af0"/>
<circle cx="1290.14" cy="1141.59" r="1.45" fill="#2a2af0"/>
<circle cx="1296.53" cy="1166.27" r="1.45" fill="#2a2af0"/>
<circle cx="1302.91" cy="1186.52" r="1.45" fill="#2a2af0"/>
<circle cx="1309.29" cy="1214.46" r="1.45" fill="#2a2af0"/>
<circle cx="1315.67" cy="1199.79" r="1.45" fill="#2a2af0"/>
<circle cx="1322.06" cy="1162.08" r="1.45" fill="#2a2af0"/>
<circle cx="1328.44" cy="1118.31" r="1.45" fill="#2a2af0"/>
<circle cx="1334.83" cy="1173.72" r="1.45" fill="#2a2af0"/>
<circle cx="1341.21" cy="1148.11" r="1.45" fill="#2a2af0"/>
<circle cx="1347.59" cy="1149.27" r="1.45" fill="#2a2af0"/>
<circle cx="1353.97" cy="1173.72" r="1.45" fill="#2a2af0"/>
<circle cx="1360.36" cy="1149.97" r="1.45" fill="#2a2af0"/>
<circle cx="1366.74" cy="1145.08" r="1.45" fill="#2a2af0"/>
<circle cx="1373.12" cy="1112.72" r="1.45" fill="#2a2af0"/>
<circle cx="1379.51" cy="1101.55" r="1.45" fill="#2a2af0"/>
<circle cx="1385.89" cy="1117.15" r="1.45" fill="#2a2af0"/>
<circle cx="1392.28" cy="1131.35" r="1.45" fill="#2a2af0"/>
<circle cx="1398.66" cy="1119.71" r="1.45" fill="#2a2af0"/>
<circle cx="1405.04" cy="1149.27" r="1.45" fill="#2a2af0"/>
<circle cx="1411.42" cy="1172.56" r="1.45" fill="#2a2af0"/>
<circle cx="1417.81" cy="1144.62" r="1.45" fill="#2a2af0"/>
<circle cx="1424.19" cy="1168.36" r="1.45" fill="#2a2af0"/>
<circle cx="1430.58" cy="1136.94" r="1.45" fill="#2a2af0"/>
<circle cx="1436.96" cy="1110.86" r="1.45" fill="#2a2af0"/>
<circle cx="1443.34" cy="1109.7" r="1.45" fill="#2a2af0"/>
<circle cx="1449.72" cy="1064.3" r="1.45" fill="#2a2af0"/>
<circle cx="1456.11" cy="1087.58" r="1.45" fill="#2a2af0"/>
<circle cx="1462.49" cy="1095.73" r="1.45" fill="#2a2af0"/>
<circle cx="1468.88" cy="1141.13" r="1.45" fill="#2a2af0"/>
<circle cx="1475.26" cy="1201.19" r="1.45" fill="#2a2af0"/>
<circle cx="1481.64" cy="1253.34" r="1.45" fill="#2a2af0"/>
<circle cx="1488.03" cy="1264.52" r="1.45" fill="#2a2af0"/>
<circle cx="1494.41" cy="1270.34" r="1.45" fill="#2a2af0"/>
<text transform="translate(1195.86,1085.17) scale(1.0085,1.0000)" font-size="9.200" fill="#333" font-family="&quot;Liberation Sans&quot;, sans-serif">Mean on=11.9 off=1.9 all=10.9</text>
<text transform="translate(1171.46,1189.61) rotate(-90) scale(1.0632,1)" font-size="8.770" fill="#444" font-family="&quot;Liberation Sans&quot;, sans-serif">mean activity</text>
<text transform="translate(1329.93,1294.66) scale(1.0000,1.0000)" font-size="9.600" fill="#404040" font-family="&quot;Liberation Sans&quot;, sans-serif">hours</text>
<polyline points="1194.2,1060.1 1238.5,1043.3 1271.1,1029.4 1308.3,1018.9 1346.7,1009.1 1385.2,1021.7 1424.7,1031.7 1439.9,1037.5 1464.3,1044.5 1496.9,1058.9" fill="none" stroke="#4472C4" stroke-width="5" stroke-linejoin="round" stroke-linecap="round" />
<defs><linearGradient id="g1191L" x1="0" x2="1" y1="0" y2="0"><stop offset="0" stop-color="#6e6e6e"/><stop offset="1" stop-color="#ffc000"/></linearGradient><linearGradient id="g1191R" x1="0" x2="1" y1="0" y2="0"><stop offset="0" stop-color="#ffc000"/><stop offset="1" stop-color="#6e6e6e"/></linearGradient></defs>
<polygon points="1196.6,1298.3 1269.9,1286.2 1269.9,1311.1" fill="url(#g1191L)" />
<polygon points="1417.7,1286.2 1417.7,1311.1 1465.5,1298.3" fill="url(#g1191R)" />
<text transform="translate(324.21,599.92) scale(0.9428,1)" font-size="38.028" fill="#000" font-family="&quot;Liberation Sans&quot;, sans-serif">Canton S</text>
<g transform="translate(1068.85,599.5) scale(1.0411,1)" fill="#000" font-family="&quot;Liberation Sans&quot;, sans-serif"><text x="0" y="0" font-size="37.500" font-style="italic">w</text><text x="27.08" y="-12.38" font-size="24.000">+</text><text x="41.1" y="0" font-size="37.500" font-style="italic">;s-tim</text><text x="132.74" y="0" font-size="37.500"> [Hu]</text></g>
<g transform="translate(316.71,1011.8) scale(1.0226,1)" fill="#000" font-family="&quot;Liberation Sans&quot;, sans-serif"><text x="0" y="0" font-size="38.000" font-style="italic">s-tim;cry</text><text x="143.52" y="-12.54" font-size="24.320" font-style="italic">02</text></g>
<g transform="translate(1134.56,1011.1) scale(1.0167,1)" fill="#000" font-family="&quot;Liberation Sans&quot;, sans-serif"><text x="0" y="0" font-size="38.000" font-style="italic">tim</text><text x="50.66" y="-12.54" font-size="24.320" font-style="italic">KO</text></g>
<text transform="translate(2.18,1558.17) scale(0.8265,1)" font-size="42.909" fill="#000" font-family="&quot;Liberation Sans&quot;, sans-serif" font-weight="bold">c</text>
<line x1="212.2" y1="1595.7" x2="212.2" y2="1943.9" stroke="#000" stroke-width="2.2" />
<line x1="203.9" y1="1596.8" x2="212.2" y2="1596.8" stroke="#000" stroke-width="2.2" />
<text transform="translate(145.52,1605.25) scale(0.9500,1.0000)" font-size="27.500" fill="#595959" font-family="&quot;Liberation Sans&quot;, sans-serif">100</text>
<line x1="203.9" y1="1666" x2="212.2" y2="1666" stroke="#000" stroke-width="2.2" />
<text transform="translate(160.02,1674.45) scale(0.9500,1.0000)" font-size="27.500" fill="#595959" font-family="&quot;Liberation Sans&quot;, sans-serif">80</text>
<line x1="203.9" y1="1735.2" x2="212.2" y2="1735.2" stroke="#000" stroke-width="2.2" />
<text transform="translate(160.02,1743.65) scale(0.9500,1.0000)" font-size="27.500" fill="#595959" font-family="&quot;Liberation Sans&quot;, sans-serif">60</text>
<line x1="203.9" y1="1804.4" x2="212.2" y2="1804.4" stroke="#000" stroke-width="2.2" />
<text transform="translate(160.02,1812.85) scale(0.9500,1.0000)" font-size="27.500" fill="#595959" font-family="&quot;Liberation Sans&quot;, sans-serif">40</text>
<line x1="203.9" y1="1873.6" x2="212.2" y2="1873.6" stroke="#000" stroke-width="2.2" />
<text transform="translate(160.02,1882.05) scale(0.9500,1.0000)" font-size="27.500" fill="#595959" font-family="&quot;Liberation Sans&quot;, sans-serif">20</text>
<line x1="203.9" y1="1942.8" x2="212.2" y2="1942.8" stroke="#000" stroke-width="2.2" />
<text transform="translate(174.51,1951.25) scale(0.9500,1.0000)" font-size="27.500" fill="#595959" font-family="&quot;Liberation Sans&quot;, sans-serif">0</text>
<text transform="translate(137.77,1895.36) rotate(-90) scale(1.0106,1)" font-size="29.198" fill="#000" font-family="&quot;Liberation Sans&quot;, sans-serif">Normalised activity</text>
<polyline points="216.7,1943 398.5,1943 409.2,1925.9 419.9,1927.6 430.6,1933.3 441.2,1913 451.9,1883.2 462.6,1882.7 473.3,1878.5 483.9,1821.2 494.2,1773.9 504.9,1798.5 515.5,1785.5 525.9,1810 536.9,1814.6 548.1,1841.5 558.1,1909.2 568.7,1919.7 579.6,1913.4 590.1,1942.4 718.5,1942.4" fill="none" stroke="#A5A5A5" stroke-width="4.8" stroke-linejoin="round" stroke-linecap="round" />
<polyline points="401,1943 473.3,1943 482.9,1924.5 494.5,1909.5 505,1858 515.2,1849.2 525.9,1822.8 536.9,1841 546.9,1829.4 558.1,1801.3 568.7,1848 579.6,1842 589.7,1899.9 600.6,1919.7 611.6,1882.4 622.8,1897.5 633.3,1933 642.7,1940.7 650,1943" fill="none" stroke="#000" stroke-width="4.8" stroke-linejoin="round" stroke-linecap="round" />
<polyline points="216.7,1718.3 247,1702.8 270.5,1688.9 291.8,1678.2 313.2,1665.4 332.4,1652.6 345.2,1644 366.5,1635.5 405,1619.5 434.8,1606.7 464.7,1597.1 477.5,1599.2 496.7,1609.2 531.8,1624.4 555.1,1634.2 579.6,1641.2 593.6,1646.5 622.8,1662.9 633.3,1667.6 663.7,1679.2 675.4,1685.1 718.5,1715" fill="none" stroke="#4472C4" stroke-width="4.8" stroke-linejoin="round" stroke-linecap="round" />
<polyline points="216.7,1940.8 227.8,1938.7 247,1929.1 260.8,1919.5 270.5,1907.7 282.2,1887.4 291.8,1857.5 303.5,1814.8 313.2,1757.2 321.7,1697.4 334.5,1602.4 345.2,1600.9 356.9,1603.1 379.3,1601.3 408.2,1600.9 428.4,1598.1 462.6,1597.5 494.6,1598.1 510.7,1600.5 538.8,1602.9 566.8,1606.2 591.3,1609.2 600.6,1674.6 611.1,1797.1 622.8,1867.2 633.3,1905.7 643.8,1925.6 654.3,1936.1 666,1940.7 718.5,1941.4" fill="none" stroke="#FFC000" stroke-width="4.8" stroke-linejoin="round" stroke-linecap="round" />
<line x1="873.8" y1="1595.7" x2="873.8" y2="1943.9" stroke="#000" stroke-width="2.2" />
<line x1="865.5" y1="1596.8" x2="873.8" y2="1596.8" stroke="#000" stroke-width="2.2" />
<text transform="translate(807.12,1605.25) scale(0.9500,1.0000)" font-size="27.500" fill="#595959" font-family="&quot;Liberation Sans&quot;, sans-serif">100</text>
<line x1="865.5" y1="1666" x2="873.8" y2="1666" stroke="#000" stroke-width="2.2" />
<text transform="translate(821.62,1674.45) scale(0.9500,1.0000)" font-size="27.500" fill="#595959" font-family="&quot;Liberation Sans&quot;, sans-serif">80</text>
<line x1="865.5" y1="1735.2" x2="873.8" y2="1735.2" stroke="#000" stroke-width="2.2" />
<text transform="translate(821.62,1743.65) scale(0.9500,1.0000)" font-size="27.500" fill="#595959" font-family="&quot;Liberation Sans&quot;, sans-serif">60</text>
<line x1="865.5" y1="1804.4" x2="873.8" y2="1804.4" stroke="#000" stroke-width="2.2" />
<text transform="translate(821.62,1812.85) scale(0.9500,1.0000)" font-size="27.500" fill="#595959" font-family="&quot;Liberation Sans&quot;, sans-serif">40</text>
<line x1="865.5" y1="1873.6" x2="873.8" y2="1873.6" stroke="#000" stroke-width="2.2" />
<text transform="translate(821.62,1882.05) scale(0.9500,1.0000)" font-size="27.500" fill="#595959" font-family="&quot;Liberation Sans&quot;, sans-serif">20</text>
<line x1="865.5" y1="1942.8" x2="873.8" y2="1942.8" stroke="#000" stroke-width="2.2" />
<text transform="translate(836.12,1951.25) scale(0.9500,1.0000)" font-size="27.500" fill="#595959" font-family="&quot;Liberation Sans&quot;, sans-serif">0</text>
<text transform="translate(798.17,1895.36) rotate(-90) scale(1.0106,1)" font-size="29.198" fill="#000" font-family="&quot;Liberation Sans&quot;, sans-serif">Normalised activity</text>
<polyline points="878.3,1943 1049.5,1943 1061.3,1935.4 1072.5,1921.4 1080.9,1915.2 1092.1,1922.8 1101.9,1887.2 1113.9,1884.4 1124.3,1921.4 1134.7,1858.3 1145.3,1869.5 1156,1874.3 1167.2,1867.6 1177.5,1862.5 1187.9,1869.5 1198.5,1903.1 1209.2,1894.7 1219.6,1887.7 1230.8,1907.3 1241.1,1865.3 1251.8,1907.3 1263,1896.1 1272.8,1803.7 1284,1852.7 1295.2,1848.5 1305,1897.5 1315.7,1942.4 1380.3,1942.4" fill="none" stroke="#A5A5A5" stroke-width="4.8" stroke-linejoin="round" stroke-linecap="round" />
<polyline points="1006.6,1943 1016.4,1934 1028.2,1920 1038.8,1928.4 1049.5,1932 1061.3,1922.8 1071.1,1905.9 1080.9,1915.7 1092.1,1933.4 1103.3,1893.3 1122.9,1893.3 1134.1,1888.3 1145.3,1877.1 1156.5,1884.4 1167.2,1897.5 1177.5,1876 1187.9,1809.3 1198.5,1867.6 1209.2,1792.5 1219.6,1814.9 1230.8,1856.9 1241.1,1844.3 1251.8,1851.3 1261.6,1823.3 1272.8,1771.4 1282.6,1758.8 1294.4,1736.4 1305,1789.7 1316.2,1775.7 1327.4,1884.9 1335.8,1942.4" fill="none" stroke="#000" stroke-width="4.8" stroke-linejoin="round" stroke-linecap="round" />
<polyline points="878.3,1718.3 908.6,1702.8 932.1,1688.9 953.4,1678.2 974.8,1665.4 994,1652.6 1006.8,1644 1028.1,1635.5 1066.6,1619.5 1096.4,1606.7 1126.3,1597.1 1139.1,1599.2 1158.3,1609.2 1193.4,1624.4 1216.7,1634.2 1241.2,1641.2 1255.2,1646.5 1284.4,1662.9 1294.9,1667.6 1325.3,1679.2 1337,1685.1 1380.1,1715" fill="none" stroke="#4472C4" stroke-width="4.8" stroke-linejoin="round" stroke-linecap="round" />
<polyline points="878.3,1940.8 889.4,1938.7 908.6,1929.1 922.4,1919.5 932.1,1907.7 943.8,1887.4 953.4,1857.5 965.1,1814.8 974.8,1757.2 983.3,1697.4 996.1,1602.4 1006.8,1600.9 1018.5,1603.1 1040.9,1601.3 1069.8,1600.9 1090,1598.1 1124.2,1597.5 1156.2,1598.1 1172.3,1600.5 1200.4,1602.9 1228.4,1606.2 1252.9,1609.2 1262.2,1674.6 1272.7,1797.1 1284.4,1867.2 1294.9,1905.7 1305.4,1925.6 1315.9,1936.1 1327.6,1940.7 1380.1,1941.4" fill="none" stroke="#FFC000" stroke-width="4.8" stroke-linejoin="round" stroke-linecap="round" />
<line x1="117.7" y1="2031.2" x2="161.8" y2="2031.2" stroke="#000" stroke-width="5" />
<text transform="translate(167.86,2041.58) scale(0.9541,1)" font-size="32.254" fill="#000" font-family="&quot;Liberation Sans&quot;, sans-serif">Canton S</text>
<line x1="318.5" y1="2033" x2="362.5" y2="2033" stroke="#A5A5A5" stroke-width="5" />
<g transform="translate(366.34,2041.7) scale(0.9988,1)" fill="#000" font-family="&quot;Liberation Sans&quot;, sans-serif"><text x="0" y="0" font-size="33.000" font-style="italic">s-tim;cry</text><text x="124.64" y="-10.89" font-size="21.120" font-style="italic">02</text></g>
<line x1="851.3" y1="2032.7" x2="894" y2="2032.7" stroke="#000" stroke-width="5" />
<g transform="translate(899.73,2040.7) scale(1.0166,1)" fill="#000" font-family="&quot;Liberation Sans&quot;, sans-serif"><text x="0" y="0" font-size="33.000" font-style="italic">s-tim</text><text x="71.48" y="0" font-size="33.000"> [Hu]</text></g>
<line x1="1064.8" y1="2032.7" x2="1108.9" y2="2032.7" stroke="#A5A5A5" stroke-width="5" />
<g transform="translate(1112.72,2040.7) scale(0.9940,1)" fill="#000" font-family="&quot;Liberation Sans&quot;, sans-serif"><text x="0" y="0" font-size="33.000" font-style="italic">tim</text><text x="43.99" y="-10.89" font-size="21.120" font-style="italic">KO</text></g>
</svg></body></html>
